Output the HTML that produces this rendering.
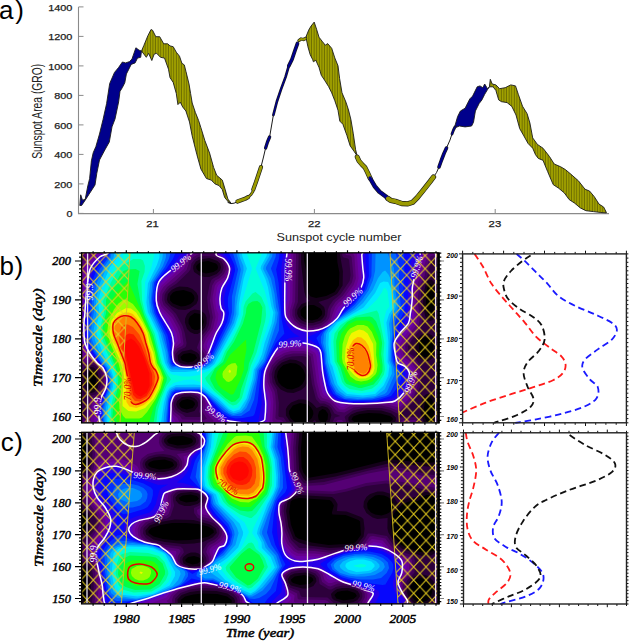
<!DOCTYPE html>
<html><head><meta charset="utf-8"><style>html,body{margin:0;padding:0;background:#fff;}body{width:630px;height:643px;overflow:hidden;}svg{display:block;}</style></head>
<body><svg width="630" height="643" viewBox="0 0 630 643" font-family="Liberation Sans, sans-serif">
<defs>
<pattern id="vs" patternUnits="userSpaceOnUse" width="2.6" height="10"><rect width="2.6" height="10" fill="#a3a300"/><rect x="1.6" width="1" height="10" fill="#6e6e00"/></pattern>
<pattern id="hb" patternUnits="userSpaceOnUse" x="87.50" y="262.10" width="12.276" height="13.127"><path d="M0 0L12.276 13.127M0 13.127L12.276 0M-6.138 6.564L0 0M12.276 13.127L18.414 6.564" stroke="#e8cf1c" stroke-width="1" fill="none"/></pattern>
<pattern id="hc" patternUnits="userSpaceOnUse" x="87.10" y="441.40" width="12.324" height="13.210"><path d="M0 0L12.324 13.210M0 13.210L12.324 0M-6.162 6.605L0 0M12.324 13.210L18.486 6.605" stroke="#e8cf1c" stroke-width="1" fill="none"/></pattern>
<clipPath id="cpb"><rect x="82" y="253" width="355.5" height="169.5"/></clipPath>
<clipPath id="cpc"><rect x="82" y="432.5" width="355.5" height="171"/></clipPath>
</defs>
<g font-family="Liberation Sans, sans-serif">
<path d="M78.5 7V213.6H609" stroke="#8a8a8a" stroke-width="1.1" fill="none"/>
<path d="M78.5 213.4H83.5" stroke="#8a8a8a" stroke-width="1"/>
<path d="M78.5 183.9H83.5" stroke="#8a8a8a" stroke-width="1"/>
<path d="M78.5 154.4H83.5" stroke="#8a8a8a" stroke-width="1"/>
<path d="M78.5 124.9H83.5" stroke="#8a8a8a" stroke-width="1"/>
<path d="M78.5 95.4H83.5" stroke="#8a8a8a" stroke-width="1"/>
<path d="M78.5 65.9H83.5" stroke="#8a8a8a" stroke-width="1"/>
<path d="M78.5 36.4H83.5" stroke="#8a8a8a" stroke-width="1"/>
<path d="M78.5 6.9H83.5" stroke="#8a8a8a" stroke-width="1"/>
<path d="M153.4 213.6V209" stroke="#8a8a8a" stroke-width="1"/>
<path d="M314.4 213.6V209" stroke="#8a8a8a" stroke-width="1"/>
<path d="M495.2 213.6V209" stroke="#8a8a8a" stroke-width="1"/>
<polygon points="79.8,205.5 80.7,194.8 82.5,200.2 85.2,199.3 87.8,185.9 89.6,178.7 91.4,160.8 93.2,152.8 95.9,146.5 99.5,134.0 103.0,119.7 106.6,103.6 109.7,83.5 114.5,72.4 118.5,67.6 122.4,62.0 125.6,62.9 129.6,61.6 132.0,58.9 135.9,47.8 139.1,50.2 141.5,51.0 140.7,57.3 137.5,58.1 135.1,62.9 131.2,64.4 126.4,74.0 124.8,82.7 122.4,87.5 120.0,91.4 118.6,102.0 116.5,112.0 115.0,119.0 112.0,126.8 109.3,142.0 104.8,150.0 99.5,160.0 96.8,173.3 95.0,185.0 88.7,194.8 85.2,200.2 81.6,205.5" fill="#00008c" stroke="#1a1a1a" stroke-width="0.9" stroke-linejoin="round"/>
<polygon points="141.5,51.0 143.9,45.4 147.8,35.9 151.0,29.5 152.6,30.3 155.8,36.7 159.7,36.7 163.7,43.8 167.7,43.8 170.0,45.9 173.2,46.7 176.3,52.2 179.5,56.2 181.9,63.3 184.3,64.9 185.9,71.3 189.0,84.0 190.6,93.5 192.2,103.0 195.4,112.5 198.6,120.5 200.9,127.7 204.8,140.4 209.6,153.1 213.6,167.4 216.7,175.3 222.3,180.1 224.7,188.0 227.9,199.1 231.0,203.1 228.7,202.3 224.7,197.5 222.3,189.6 219.1,185.6 215.2,184.0 211.2,180.1 206.4,178.5 200.9,169.0 196.9,154.7 192.1,135.6 189.5,122.0 187.2,115.0 185.9,111.0 182.7,107.0 180.3,102.2 177.9,104.6 176.3,93.5 173.2,82.4 170.0,77.6 168.5,69.2 164.5,58.1 160.5,57.3 156.6,53.3 154.2,54.1 151.8,60.5 148.6,53.3 146.3,57.3" fill="url(#vs)" stroke="#1a1a1a" stroke-width="0.9" stroke-linejoin="round"/>
<polygon points="305.5,38.0 308.7,30.1 311.0,26.1 314.2,22.1 316.6,29.3 319.0,37.2 322.1,41.2 325.3,45.2 327.7,43.6 331.7,48.3 334.8,57.9 338.0,65.8 339.6,78.5 342.0,92.8 346.0,102.3 348.5,110.0 350.9,119.5 353.3,133.8 355.6,149.7 357.2,156.0 354.0,151.3 350.1,145.7 346.9,135.4 342.9,124.3 339.8,121.1 338.0,110.2 334.8,100.7 331.7,92.8 328.5,86.4 324.5,80.1 321.3,75.3 319.0,67.4 315.8,60.2 313.4,61.8 312.6,59.4 310.2,54.7 307.9,46.7 306.3,38.8" fill="url(#vs)" stroke="#1a1a1a" stroke-width="0.9" stroke-linejoin="round"/>
<polygon points="454.9,126.0 457.6,116.6 460.4,111.0 465.1,108.2 469.8,98.9 472.6,96.1 477.2,86.8 480.0,85.9 482.8,87.7 484.7,84.0 487.5,88.7 489.4,86.8 487.5,89.6 484.7,94.3 481.9,99.9 479.1,103.6 475.4,111.0 473.5,122.2 471.6,126.0 465.1,126.9 459.5,126.0 454.9,127.8" fill="#00008c" stroke="#1a1a1a" stroke-width="0.9" stroke-linejoin="round"/>
<polygon points="489.4,86.8 490.3,79.3 492.2,84.0 495.9,84.9 499.6,88.7 505.2,87.7 510.8,84.9 515.5,85.9 518.3,94.3 522.5,106.2 527.1,113.7 529.9,123.0 532.7,137.9 537.4,144.4 543.0,148.2 549.5,156.6 554.2,164.0 560.7,166.8 565.4,169.6 571.0,174.3 578.4,180.8 585.0,189.2 589.6,191.1 594.3,196.7 599.0,204.1 603.6,207.0 606.4,212.5 606.4,212.9 600.8,212.5 593.4,211.6 585.9,210.7 580.3,207.9 574.7,203.2 569.1,199.5 564.4,193.0 558.8,188.3 553.2,184.6 547.6,171.5 543.0,160.3 538.3,158.4 535.5,154.7 532.7,148.2 528.1,143.5 523.4,135.1 519.7,128.6 516.0,115.0 511.8,106.4 507.1,102.6 501.5,101.7 498.7,99.9 495.9,90.5 493.1,86.8" fill="url(#vs)" stroke="#1a1a1a" stroke-width="0.9" stroke-linejoin="round"/>
<polyline points="228.0,202.5 231.0,203.6 234.0,203.2 237.5,201.8" fill="none" stroke="#1a1a1a" stroke-width="1.0" stroke-linejoin="round" stroke-linecap="round"/>
<polyline points="237.5,201.5 241.0,200.2 245.0,198.8 248.0,197.2" fill="none" stroke="#1a1a1a" stroke-width="4.3" stroke-linejoin="round" stroke-linecap="round"/>
<polyline points="248.0,197.2 251.0,194.5 253.0,191.5" fill="none" stroke="#1a1a1a" stroke-width="2.8" stroke-linejoin="round" stroke-linecap="round"/>
<polyline points="253.3,189.5 256.0,182.0 258.5,174.5 261.0,167.0" fill="none" stroke="#1a1a1a" stroke-width="4.1" stroke-linejoin="round" stroke-linecap="round"/>
<polyline points="261.0,167.0 263.5,157.0 265.6,148.0" fill="none" stroke="#1a1a1a" stroke-width="1.0" stroke-linejoin="round" stroke-linecap="round"/>
<polyline points="265.6,148.0 267.5,142.0 269.6,137.0" fill="none" stroke="#1a1a1a" stroke-width="3.3" stroke-linejoin="round" stroke-linecap="round"/>
<polyline points="269.6,137.0 273.4,115.0" fill="none" stroke="#1a1a1a" stroke-width="1.0" stroke-linejoin="round" stroke-linecap="round"/>
<polyline points="273.4,115.0 276.9,101.5 280.9,89.6 285.6,76.9 288.8,65.8" fill="none" stroke="#1a1a1a" stroke-width="2.7" stroke-linejoin="round" stroke-linecap="round"/>
<polyline points="288.8,65.8 292.0,59.4 295.2,49.9 297.5,43.5" fill="none" stroke="#1a1a1a" stroke-width="3.7" stroke-linejoin="round" stroke-linecap="round"/>
<polyline points="299.0,40.5 301.0,39.0 303.5,39.5 305.5,38.5" fill="none" stroke="#1a1a1a" stroke-width="3.3" stroke-linejoin="round" stroke-linecap="round"/>
<polyline points="357.2,157.0 359.0,161.0 362.0,164.5 365.0,167.5 367.5,172.5 370.0,178.0" fill="none" stroke="#1a1a1a" stroke-width="4.9" stroke-linejoin="round" stroke-linecap="round"/>
<polyline points="370.0,178.0 374.7,186.2 379.4,191.7 385.8,196.5 388.0,198.5" fill="none" stroke="#1a1a1a" stroke-width="4.5" stroke-linejoin="round" stroke-linecap="round"/>
<polyline points="388.0,198.5 390.6,200.3 395.3,201.3 401.7,203.5 408.0,203.8 412.8,202.2 417.5,197.3 423.9,189.4 430.2,181.4 433.5,177.0" fill="none" stroke="#1a1a1a" stroke-width="5.3" stroke-linejoin="round" stroke-linecap="round"/>
<polyline points="433.5,177.0 436.5,172.6 439.0,167.0" fill="none" stroke="#1a1a1a" stroke-width="1.0" stroke-linejoin="round" stroke-linecap="round"/>
<polyline points="439.0,167.0 441.5,160.0 444.0,153.5 446.5,148.0" fill="none" stroke="#1a1a1a" stroke-width="3.6" stroke-linejoin="round" stroke-linecap="round"/>
<polyline points="446.5,148.0 450.0,140.0 452.0,134.0" fill="none" stroke="#1a1a1a" stroke-width="1.0" stroke-linejoin="round" stroke-linecap="round"/>
<polyline points="452.0,134.0 453.5,130.0 455.0,127.0" fill="none" stroke="#1a1a1a" stroke-width="2.8" stroke-linejoin="round" stroke-linecap="round"/>
<polyline points="237.5,201.5 241.0,200.2 245.0,198.8 248.0,197.2" fill="none" stroke="#9a9a00" stroke-width="3.0" stroke-linejoin="round" stroke-linecap="round"/>
<polyline points="248.0,197.2 251.0,194.5 253.0,191.5" fill="none" stroke="#9a9a00" stroke-width="1.5" stroke-linejoin="round" stroke-linecap="round"/>
<polyline points="253.3,189.5 256.0,182.0 258.5,174.5 261.0,167.0" fill="none" stroke="#9a9a00" stroke-width="2.8" stroke-linejoin="round" stroke-linecap="round"/>
<polyline points="265.6,148.0 267.5,142.0 269.6,137.0" fill="none" stroke="#00008c" stroke-width="2.0" stroke-linejoin="round" stroke-linecap="round"/>
<polyline points="273.4,115.0 276.9,101.5 280.9,89.6 285.6,76.9 288.8,65.8" fill="none" stroke="#00008c" stroke-width="1.4" stroke-linejoin="round" stroke-linecap="round"/>
<polyline points="288.8,65.8 292.0,59.4 295.2,49.9 297.5,43.5" fill="none" stroke="#00008c" stroke-width="2.4" stroke-linejoin="round" stroke-linecap="round"/>
<polyline points="299.0,40.5 301.0,39.0 303.5,39.5 305.5,38.5" fill="none" stroke="#9a9a00" stroke-width="2.0" stroke-linejoin="round" stroke-linecap="round"/>
<polyline points="357.2,157.0 359.0,161.0 362.0,164.5 365.0,167.5 367.5,172.5 370.0,178.0" fill="none" stroke="#9a9a00" stroke-width="3.6" stroke-linejoin="round" stroke-linecap="round"/>
<polyline points="370.0,178.0 374.7,186.2 379.4,191.7 385.8,196.5 388.0,198.5" fill="none" stroke="#00008c" stroke-width="3.2" stroke-linejoin="round" stroke-linecap="round"/>
<polyline points="388.0,198.5 390.6,200.3 395.3,201.3 401.7,203.5 408.0,203.8 412.8,202.2 417.5,197.3 423.9,189.4 430.2,181.4 433.5,177.0" fill="none" stroke="#9a9a00" stroke-width="4.0" stroke-linejoin="round" stroke-linecap="round"/>
<polyline points="439.0,167.0 441.5,160.0 444.0,153.5 446.5,148.0" fill="none" stroke="#00008c" stroke-width="2.3" stroke-linejoin="round" stroke-linecap="round"/>
<polyline points="452.0,134.0 453.5,130.0 455.0,127.0" fill="none" stroke="#00008c" stroke-width="1.5" stroke-linejoin="round" stroke-linecap="round"/>
<text x="72.4" y="217.0" font-size="8.7" text-anchor="end" fill="#222" stroke="#222" stroke-width="0.25" textLength="6.0" lengthAdjust="spacingAndGlyphs">0</text>
<text x="72.4" y="187.5" font-size="8.7" text-anchor="end" fill="#222" stroke="#222" stroke-width="0.25" textLength="18.1" lengthAdjust="spacingAndGlyphs">200</text>
<text x="72.4" y="158.0" font-size="8.7" text-anchor="end" fill="#222" stroke="#222" stroke-width="0.25" textLength="18.1" lengthAdjust="spacingAndGlyphs">400</text>
<text x="72.4" y="128.5" font-size="8.7" text-anchor="end" fill="#222" stroke="#222" stroke-width="0.25" textLength="18.1" lengthAdjust="spacingAndGlyphs">600</text>
<text x="72.4" y="99.0" font-size="8.7" text-anchor="end" fill="#222" stroke="#222" stroke-width="0.25" textLength="18.1" lengthAdjust="spacingAndGlyphs">800</text>
<text x="72.4" y="69.5" font-size="8.7" text-anchor="end" fill="#222" stroke="#222" stroke-width="0.25" textLength="24.2" lengthAdjust="spacingAndGlyphs">1000</text>
<text x="72.4" y="40.0" font-size="8.7" text-anchor="end" fill="#222" stroke="#222" stroke-width="0.25" textLength="24.2" lengthAdjust="spacingAndGlyphs">1200</text>
<text x="72.4" y="10.5" font-size="8.7" text-anchor="end" fill="#222" stroke="#222" stroke-width="0.25" textLength="24.2" lengthAdjust="spacingAndGlyphs">1400</text>
<text x="152.6" y="227.3" font-size="9.2" text-anchor="middle" fill="#222" stroke="#222" stroke-width="0.25" textLength="12.6" lengthAdjust="spacingAndGlyphs">21</text>
<text x="314.2" y="227.3" font-size="9.2" text-anchor="middle" fill="#222" stroke="#222" stroke-width="0.25" textLength="12.6" lengthAdjust="spacingAndGlyphs">22</text>
<text x="494.9" y="227.3" font-size="9.2" text-anchor="middle" fill="#222" stroke="#222" stroke-width="0.25" textLength="12.6" lengthAdjust="spacingAndGlyphs">23</text>
<text x="339" y="240.6" font-size="11" text-anchor="middle" fill="#222" textLength="125" lengthAdjust="spacingAndGlyphs">Sunspot cycle number</text>
<text transform="translate(41.9 111.3) rotate(-90)" font-size="14.5" text-anchor="middle" fill="#222" textLength="95" lengthAdjust="spacingAndGlyphs">Sunspot Area (GRO)</text>
<text x="-1" y="19" font-size="26" fill="#000" letter-spacing="1.7">a)</text>
<text x="-0.4" y="275" font-size="26" fill="#000" letter-spacing="0.5">b)</text>
<text x="0.8" y="450.6" font-size="26" fill="#000" letter-spacing="0.5">c)</text>
</g>
<g clip-path="url(#cpb)"><rect x="82" y="253" width="355.5" height="169.5" fill="#000000"/>
<path fill-rule="evenodd" fill="#140019" d="M82.1 253.1 82.1 422.4 296.4 422.4 293.6 421.1 290.4 417.9 288.9 413.6 289.1 411.1 292.9 405.6 300.1 402.9 307.9 404.6 311.1 407.4 313.1 411.1 313.4 413.9 311.9 417.9 308.6 421.1 305.6 422.4 321.1 422.4 318.6 419.6 317.9 415.4 319.1 411.6 322.4 409.1 325.4 409.9 328.1 414.1 327.6 419.6 325.1 422.4 354.9 422.4 351.4 419.6 353.1 416.6 359.6 414.1 368.9 412.9 380.4 413.4 389.9 415.9 392.6 418.1 392.9 419.4 389.4 422.4 427.9 422.4 426.1 420.6 424.6 416.9 423.9 407.9 425.4 401.1 428.4 397.4 429.9 397.4 431.9 399.1 434.4 408.1 433.6 416.9 432.1 420.6 430.4 422.4 437.4 422.4 437.4 253.1 336.9 253.1 337.4 262.6 339.4 272.4 338.9 285.6 334.6 291.9 326.1 295.9 316.1 298.1 310.6 296.4 308.4 293.4 306.9 285.1 305.9 269.6 303.9 259.9 303.9 253.1ZM179.1 403.6 181.6 400.4 187.4 398.9 192.6 400.4 194.6 402.4 195.1 404.6 192.6 407.9 186.4 409.4 181.6 407.9 179.6 405.9ZM90.6 370.4 92.1 370.4 94.1 372.1 96.1 378.6 95.4 385.6 92.1 389.9 90.6 389.9 88.6 388.1 86.6 381.1 87.9 373.6ZM290.1 362.9 295.9 363.6 300.4 366.1 303.6 369.9 305.4 375.1 304.9 379.4 302.4 384.1 298.9 387.1 292.1 389.4 287.1 388.9 281.9 386.1 278.6 382.4 276.9 376.6 277.9 371.4 280.1 367.9 283.4 365.1ZM180.4 356.9 183.6 353.9 189.9 352.9 195.1 354.6 197.1 358.1 193.1 361.6 187.9 362.4 181.9 360.4ZM424.9 337.1 428.1 337.4 431.1 339.9 433.4 345.9 433.1 349.9 431.6 353.6 427.4 357.1 424.1 356.9 421.1 354.4 418.9 348.4 419.1 344.4 420.6 340.6ZM194.6 313.1 199.9 314.1 202.4 316.6 203.9 322.1 202.6 326.1 199.9 329.1 197.6 330.1 194.6 330.1 191.6 328.6 188.6 323.6 188.6 319.6 189.9 316.6ZM300.4 310.6 302.4 307.9 305.1 306.1 310.1 304.9 313.9 305.1 320.4 308.4 322.1 311.4 322.1 313.9 321.4 315.6 317.6 318.9 311.9 320.4 304.6 318.9 300.9 315.6ZM170.1 295.9 172.9 292.6 176.1 290.9 183.6 289.9 191.4 292.6 193.9 295.4 194.6 298.6 193.4 301.6 190.6 304.1 185.4 306.1 180.9 306.4 172.9 303.6 170.1 300.4ZM429.6 283.9 430.6 283.9 432.6 286.6 434.4 296.9 433.6 309.6 432.6 313.6 430.6 316.4 429.6 316.4 427.6 313.6 425.9 303.4 426.6 290.6 427.9 286.1ZM196.1 266.6 196.9 264.9 200.6 262.1 208.1 260.9 215.9 263.4 217.4 264.9 218.1 267.6 217.4 269.4 213.6 272.1 205.9 273.4 198.4 270.9 196.6 269.1Z"/>
<path fill-rule="evenodd" fill="#2d003c" d="M316.9 422.4 314.9 419.9 311.6 422.4ZM82.1 253.1 82.1 422.4 290.6 422.4 285.9 415.4 285.9 409.1 287.6 405.9 291.1 402.4 298.6 399.4 303.6 399.4 308.1 400.6 312.4 403.4 316.6 408.1 322.1 406.1 327.4 407.6 329.6 410.1 331.4 415.1 329.4 422.4 349.6 422.4 348.4 420.4 348.4 417.6 351.1 414.4 356.9 411.9 367.9 410.1 381.4 410.6 391.4 413.4 395.9 417.4 395.9 420.4 394.6 422.4 423.9 422.4 420.4 413.4 420.6 404.6 423.6 396.6 425.9 394.4 428.6 393.4 432.4 394.4 435.9 400.4 437.1 406.9 437.1 413.4 434.4 422.4 437.4 422.4 437.4 253.1 339.6 253.1 342.9 271.1 342.6 285.6 336.9 294.1 327.9 299.1 318.4 301.9 324.1 307.1 325.1 310.9 324.9 314.9 323.1 318.1 320.4 320.6 312.9 323.1 307.6 322.9 301.9 320.6 298.4 317.1 297.1 313.6 297.6 309.6 301.6 303.9 310.1 300.9 305.9 297.4 304.4 292.1 301.1 262.9 301.1 253.1ZM177.1 400.9 182.1 396.9 190.1 396.4 194.1 397.9 196.9 400.4 197.9 402.4 197.9 405.9 194.4 411.1 187.1 412.9 182.1 411.4 177.6 408.1 176.1 404.4ZM91.1 367.1 93.6 367.6 96.4 370.1 98.9 377.4 98.9 382.9 97.6 387.9 94.4 392.1 91.6 393.1 88.1 392.4 86.1 390.6 83.9 382.9 83.9 377.4 85.1 372.1 88.4 368.1ZM289.9 359.6 295.9 359.9 301.9 362.6 305.9 366.9 308.4 374.6 307.9 381.9 304.9 386.9 301.1 390.1 293.6 392.9 287.1 392.6 280.6 389.6 276.1 383.9 274.1 377.6 274.9 371.1 277.4 366.6 281.9 362.6ZM177.6 355.6 182.1 351.4 191.1 349.4 197.1 352.4 199.1 354.4 200.1 358.4 199.1 360.9 195.6 363.6 192.1 364.6 185.6 364.6 180.4 362.9 178.1 360.6ZM424.6 333.4 428.6 333.6 431.9 335.4 434.9 339.6 436.1 344.4 436.1 349.9 433.9 356.6 430.9 359.6 427.6 360.9 423.6 360.6 420.1 358.6 417.1 354.9 415.4 349.6 415.4 344.6 417.1 339.4 421.1 334.9ZM194.4 309.4 200.9 310.4 205.1 314.1 206.6 317.4 206.6 323.4 205.1 327.6 201.6 331.6 197.6 333.9 194.4 333.9 190.1 332.1 187.1 328.9 184.9 322.6 185.1 318.4 187.1 314.1 190.4 310.9ZM167.9 293.9 171.6 289.9 176.1 287.4 179.6 286.4 187.6 286.9 192.4 288.9 196.4 292.4 198.1 296.1 198.1 300.1 196.4 303.9 190.1 308.6 185.1 309.9 178.1 309.6 171.4 306.1 167.9 302.4 166.9 299.6ZM431.4 279.6 434.1 281.9 435.9 286.9 437.1 295.4 437.1 304.9 434.6 317.4 432.9 319.9 429.9 320.9 427.4 319.9 425.1 316.1 423.1 304.6 423.1 295.9 425.9 283.4 428.1 280.6ZM193.4 265.4 195.9 261.6 199.6 259.4 209.4 258.1 217.4 260.9 220.1 263.6 221.1 267.6 220.1 270.6 216.6 273.9 209.1 276.9 204.4 276.9 199.4 275.6 194.1 271.9 193.1 268.6Z"/>
<path fill-rule="evenodd" fill="#410058" d="M397.9 421.9 420.9 422.4 419.4 418.6 416.6 417.1 400.1 417.4ZM82.1 253.1 82.1 373.6 84.1 367.4 87.9 365.4 92.1 364.6 94.9 365.4 98.4 368.6 100.1 371.9 101.4 377.4 101.1 384.6 98.6 391.4 95.4 394.6 89.6 395.9 88.4 397.1 86.1 406.6 85.9 415.4 84.6 416.6 83.4 415.4 83.1 392.9 82.1 386.6 82.1 422.4 287.1 422.4 283.4 417.6 279.4 416.9 278.4 415.9 278.9 402.9 276.9 389.6 272.6 382.4 271.6 374.1 273.6 367.6 279.1 361.4 285.9 357.9 291.9 356.4 302.1 356.1 306.4 357.1 308.4 358.9 311.9 384.1 315.9 399.1 319.9 403.4 324.4 403.6 328.6 405.4 331.4 408.1 334.4 413.6 340.4 416.1 334.9 417.4 332.4 422.4 346.4 422.4 344.6 417.1 345.9 415.4 352.9 410.6 362.6 408.1 381.6 408.1 390.1 410.1 397.1 413.4 400.4 413.1 409.4 406.1 414.1 401.4 416.4 397.6 420.1 386.6 422.4 371.4 421.4 367.1 413.6 356.6 408.6 352.9 407.9 346.6 411.6 339.9 418.6 331.6 420.9 327.6 422.4 320.1 420.6 304.6 421.1 291.1 423.6 282.1 427.4 276.6 428.1 271.1 432.1 260.1 434.6 258.1 437.1 260.1 437.4 281.9 437.4 253.1 342.1 253.1 342.4 255.9 343.6 257.6 347.9 258.4 349.1 259.9 350.6 275.1 349.6 280.9 340.4 294.4 333.1 300.6 329.6 305.6 327.9 309.4 327.1 316.1 325.4 319.4 321.1 323.1 313.1 325.6 307.4 325.4 300.6 322.9 296.1 318.4 294.9 315.1 294.9 310.1 297.9 301.9 298.6 253.1ZM176.4 397.9 180.1 395.4 185.6 394.1 191.1 394.4 196.1 396.1 199.1 399.1 200.4 401.9 200.6 404.9 199.1 411.4 201.1 416.1 199.4 417.1 185.6 417.1 182.6 414.4 178.1 412.1 175.4 409.4 173.9 405.9 174.1 401.9ZM213.4 256.4 217.9 258.4 221.6 261.4 223.4 264.9 223.6 267.9 221.9 272.6 217.9 276.1 213.1 278.4 211.4 280.1 209.6 284.6 207.1 297.6 208.1 308.6 210.1 315.9 208.9 324.9 206.4 330.4 201.4 335.9 196.9 347.4 197.4 349.1 201.9 353.9 202.4 359.9 199.9 363.4 193.9 365.4 181.1 364.9 176.1 361.1 175.1 355.9 175.6 353.9 178.4 350.6 184.9 347.6 186.1 346.1 186.6 342.9 184.9 333.4 182.6 325.9 176.1 314.1 165.4 303.1 164.4 300.1 164.6 295.1 166.1 291.9 169.6 288.1 176.6 283.4 188.6 272.1 190.4 269.4 191.4 263.4 194.6 259.4 198.4 257.1 202.9 255.9Z"/>
<path fill-rule="evenodd" fill="#550074" d="M400.6 422.1 418.1 422.4 415.1 419.9 403.4 419.9ZM335.1 422.4 343.6 422.1 341.9 420.1 337.9 419.9ZM82.1 253.1 82.1 255.6 85.6 256.4 84.9 258.6 82.1 261.4 82.1 361.4 84.9 363.1 92.1 362.1 96.4 364.1 101.4 369.4 103.9 377.9 103.6 384.4 101.4 391.6 97.6 396.1 91.9 398.4 90.4 400.1 88.9 407.1 88.6 418.4 86.4 419.9 82.1 419.6 82.1 422.4 283.9 422.4 281.1 420.1 276.6 419.6 275.4 417.9 276.1 406.9 275.4 395.6 274.4 390.9 269.9 381.9 269.1 374.1 271.9 365.6 276.4 360.4 285.6 355.1 293.1 353.6 303.6 353.6 307.6 354.6 310.6 356.6 314.6 384.4 317.9 396.9 320.6 400.4 325.9 401.4 330.1 403.4 337.1 411.6 344.4 412.6 353.6 407.6 368.9 405.4 381.4 405.6 389.9 407.4 396.9 410.4 399.6 410.4 408.6 403.1 414.1 395.9 417.6 385.6 419.9 373.9 419.6 371.1 418.1 366.9 413.6 360.6 405.9 354.1 405.1 345.9 409.4 338.4 418.1 327.4 419.9 317.9 418.1 304.6 418.1 295.6 419.6 285.9 424.6 275.9 425.4 270.6 430.4 256.6 432.6 255.4 437.4 255.4 437.4 253.1 344.9 253.1 346.1 255.1 350.1 255.6 351.6 257.1 353.4 275.9 351.9 282.6 342.9 295.4 335.4 302.1 330.9 309.1 329.4 317.4 327.6 320.6 320.9 326.1 312.4 328.1 306.1 327.6 299.9 325.4 294.6 320.6 292.4 315.4 292.4 309.9 295.1 301.6 296.1 253.1ZM175.1 397.4 177.1 395.4 184.4 393.4 193.6 393.6 198.9 395.4 201.6 398.4 202.9 401.6 202.4 411.6 206.9 418.9 204.1 419.9 182.1 419.4 179.9 416.1 174.4 412.1 172.9 409.4 172.6 403.1ZM213.4 253.9 223.6 261.1 225.9 265.9 225.9 269.6 223.9 274.1 219.1 278.4 215.1 280.4 212.1 285.6 209.9 300.4 212.9 317.6 210.4 328.6 203.9 337.1 200.4 345.6 200.4 347.6 204.6 354.1 204.6 359.1 202.1 363.1 198.4 364.9 192.9 366.1 181.4 365.6 175.1 361.4 174.1 352.9 176.9 348.6 182.1 345.9 183.6 344.1 181.6 331.1 179.6 325.9 173.1 314.6 163.6 305.1 161.9 300.1 162.4 293.9 167.1 286.9 175.4 280.9 186.6 270.1 189.4 261.6 193.4 257.1 197.9 254.6 204.4 253.1Z"/>
<path fill-rule="evenodd" fill="#65008e" d="M83.6 264.9 82.1 271.1 82.1 355.6 85.6 359.9 91.1 359.6 93.4 360.4 102.1 368.6 105.4 377.4 104.6 387.6 101.6 394.4 98.4 398.6 94.4 400.4 92.6 402.4 91.6 406.6 91.1 421.4 89.9 422.4 82.1 422.4 182.1 422.4 179.4 422.1 177.4 417.9 172.9 413.9 171.9 410.4 171.9 403.6 173.1 399.6 176.1 395.1 185.6 392.6 197.4 393.4 204.1 398.6 205.6 403.4 205.4 411.1 207.1 414.1 213.6 420.6 213.6 421.6 212.4 422.4 203.6 422.4 276.1 422.4 273.9 422.4 272.4 420.6 273.4 401.4 272.1 392.6 267.4 382.1 267.1 372.1 269.9 364.6 275.1 358.1 284.1 352.9 291.1 351.1 303.1 350.9 308.6 352.1 312.9 354.6 316.9 382.1 320.4 395.6 322.6 398.1 330.6 400.6 339.4 409.4 344.1 409.6 349.4 406.6 354.6 405.1 373.4 404.1 387.6 404.4 398.4 407.6 400.6 406.6 407.6 400.4 411.6 394.9 414.9 385.9 417.1 372.1 415.9 368.4 411.6 362.4 403.9 356.4 402.6 351.9 402.4 345.4 406.4 337.9 415.9 325.6 417.1 318.9 415.6 304.6 416.4 289.6 418.1 282.1 422.1 274.4 422.6 270.4 427.9 254.6 429.4 253.1 352.9 253.1 354.4 255.9 355.9 278.4 353.6 285.1 344.4 297.6 338.1 303.1 335.1 307.1 330.1 321.1 323.1 326.9 313.1 329.6 306.6 329.6 297.9 326.6 293.6 323.1 290.4 317.6 289.6 311.4 292.4 301.6 293.4 253.1 215.4 253.1 216.9 255.6 222.4 258.6 224.6 260.9 227.9 267.6 227.6 271.1 224.6 277.1 217.1 282.4 214.9 285.6 212.6 296.6 212.6 301.1 215.6 317.1 212.9 329.1 206.4 338.4 203.6 344.6 203.6 347.4 206.6 352.4 205.1 360.6 203.1 363.4 200.1 364.9 191.9 366.6 180.6 365.9 176.6 363.6 174.1 360.6 173.4 351.9 174.4 348.4 180.9 342.4 179.6 334.1 177.6 327.9 172.1 318.1 161.4 306.4 159.6 301.4 159.4 296.4 160.6 291.4 163.4 287.1 183.9 269.1 187.6 259.6 195.4 253.1 90.4 253.1 91.4 253.6 90.9 255.6Z"/>
<path fill-rule="evenodd" fill="#6a00a7" d="M85.9 266.6 82.1 287.6 82.1 349.1 86.6 356.9 92.6 358.4 102.4 367.9 106.4 378.4 104.6 390.1 99.9 399.6 95.1 403.9 94.1 422.4 175.6 422.4 171.6 414.6 171.1 408.4 172.1 400.6 175.9 394.6 186.9 392.1 197.9 392.9 202.9 395.9 207.4 402.4 207.9 409.6 208.9 411.9 220.4 422.4 269.4 422.4 270.9 403.1 269.4 392.9 265.4 383.1 265.9 371.4 270.4 361.4 276.4 354.1 283.1 350.4 292.4 348.4 302.9 348.1 309.6 349.6 315.1 352.9 316.4 355.9 319.6 382.6 322.4 393.1 324.1 395.6 330.9 398.4 340.9 406.9 343.6 406.9 348.6 404.6 389.9 402.9 398.6 404.4 407.1 397.1 409.9 391.9 412.6 383.9 414.4 371.9 409.6 364.1 401.6 358.1 400.1 353.1 399.6 344.9 404.1 336.4 413.4 324.6 414.6 316.6 413.4 306.6 414.1 288.9 415.6 281.9 419.1 274.6 425.4 253.1 356.9 253.1 358.6 278.4 356.4 285.9 345.9 299.9 338.4 307.1 335.9 311.6 333.4 319.4 324.9 326.9 318.6 329.6 311.9 330.6 306.1 330.6 296.9 327.4 291.1 322.6 287.9 316.9 287.4 309.9 289.9 299.4 290.9 253.1 216.4 253.1 217.9 255.6 223.1 258.4 225.9 261.6 228.9 267.6 228.6 271.6 226.4 278.1 218.4 285.1 217.1 287.6 215.1 299.1 216.1 308.4 218.4 314.1 217.9 319.9 215.1 330.4 208.6 339.9 206.6 344.6 208.1 352.6 206.1 359.9 202.9 364.1 192.6 366.9 181.1 366.4 174.1 361.9 172.6 352.4 174.4 345.1 177.9 340.9 176.6 332.9 168.9 318.1 160.4 308.9 157.6 300.9 158.4 292.6 161.1 285.9 181.9 267.1 185.6 258.6 192.4 253.1 96.6 253.1Z"/>
<path fill-rule="evenodd" fill="#5400c7" d="M88.4 267.6 85.4 282.1 82.1 318.4 82.6 342.4 86.9 352.9 91.9 356.4 102.9 367.6 106.9 377.6 105.9 388.6 96.9 407.6 96.9 422.4 172.6 422.4 170.9 416.1 171.4 401.1 175.6 394.1 184.1 391.9 196.9 392.1 203.6 395.6 208.4 401.9 211.4 410.6 218.1 417.1 225.6 422.4 266.6 422.4 268.1 402.4 267.1 394.9 264.1 385.4 264.9 371.6 269.1 361.9 274.1 354.1 280.6 348.6 290.4 345.9 303.9 345.6 311.4 347.4 317.4 351.1 319.1 356.1 322.1 381.6 324.9 391.9 334.9 400.6 341.9 404.1 396.9 401.6 402.1 398.1 406.9 392.1 410.4 381.9 411.6 372.1 407.4 365.6 401.1 361.9 399.4 359.9 397.6 354.1 396.9 344.4 401.9 334.9 410.9 323.6 411.9 318.4 412.6 287.9 417.6 268.1 421.6 258.1 422.6 253.1 359.6 253.1 361.4 278.4 358.6 287.4 348.4 300.9 341.4 307.6 335.6 318.1 330.6 323.1 320.6 329.6 309.4 331.6 304.6 331.1 295.9 327.9 290.4 323.4 286.1 316.1 285.6 307.4 287.1 299.9 288.4 253.1 217.1 253.1 218.4 255.1 225.4 259.6 229.9 268.4 227.9 277.6 220.1 287.6 218.1 295.6 218.6 307.1 221.1 313.4 220.4 321.1 217.1 330.6 209.9 343.6 209.4 351.4 205.9 361.9 201.6 365.1 193.1 367.1 180.9 366.6 175.9 364.1 173.4 361.6 172.1 351.6 174.9 340.1 173.9 332.9 167.9 321.6 160.6 312.6 156.6 301.4 157.9 289.9 160.4 282.9 179.4 265.9 183.1 259.4 190.9 253.1 102.4 253.1 96.6 257.1Z"/>
<path fill-rule="evenodd" fill="#2800e7" d="M90.9 268.6 87.9 282.4 84.1 322.9 84.9 341.1 89.4 352.4 103.9 368.1 107.6 378.6 106.6 388.1 102.1 397.9 99.1 407.4 98.9 422.4 170.6 422.4 170.1 407.1 171.1 400.4 174.9 393.9 184.6 391.4 198.4 391.9 204.6 395.6 213.9 409.9 221.4 416.6 227.4 420.4 237.6 422.4 263.6 422.4 265.4 406.1 262.9 385.6 263.9 371.9 269.1 360.4 276.9 349.1 280.9 345.6 289.6 343.1 304.9 342.9 312.9 345.1 318.9 349.1 320.9 353.6 322.9 373.1 326.9 390.4 328.6 393.4 336.4 400.4 343.1 402.4 350.6 402.9 370.4 402.6 393.6 400.4 398.9 397.4 403.4 392.9 407.9 380.4 408.9 373.1 405.9 368.1 399.6 363.9 397.1 360.6 395.4 353.4 394.9 343.6 399.9 333.4 407.6 323.6 408.6 321.1 410.4 308.4 411.1 287.6 414.6 268.1 419.6 253.1 362.1 253.1 363.9 278.6 360.9 288.4 352.9 298.9 343.6 308.4 336.4 318.4 324.9 328.1 319.4 330.9 309.6 332.6 305.9 332.6 296.1 329.4 288.9 323.4 285.1 317.1 284.1 309.1 284.6 274.6 286.4 253.1 218.4 253.1 225.9 258.9 230.6 267.4 229.1 277.4 222.6 288.6 220.6 297.4 221.4 307.1 223.9 313.1 222.6 321.9 212.6 343.1 206.1 362.4 202.6 365.1 193.4 367.4 180.6 366.9 173.4 362.6 171.6 354.9 172.6 344.1 171.6 333.9 158.9 311.9 155.6 300.9 157.1 288.9 159.1 281.6 177.9 263.6 185.1 255.4 188.9 253.1 106.9 253.1 99.9 257.4Z"/>
<path fill-rule="evenodd" fill="#0707fc" d="M413.9 253.1 365.4 253.1 366.4 276.9 362.4 289.6 354.9 299.4 333.1 322.1 322.6 330.1 307.1 337.4 317.1 344.9 320.6 349.1 322.1 353.1 322.9 363.9 326.9 384.4 329.6 391.9 336.1 398.9 348.9 401.9 370.9 401.9 381.1 400.9 393.9 397.9 400.6 390.1 403.9 381.9 405.4 373.6 403.4 369.6 396.9 363.6 395.6 361.1 394.1 353.9 393.9 342.6 398.1 332.1 404.4 321.4 407.1 312.9 408.1 304.4 407.9 286.4 409.9 266.1ZM101.9 258.6 93.6 269.1 90.9 278.6 88.1 298.4 85.9 327.6 86.9 341.6 89.6 349.1 97.4 360.6 104.6 368.4 108.1 377.9 106.9 389.4 103.1 397.4 100.6 407.1 100.4 422.4 169.4 422.4 169.6 405.4 171.1 398.9 175.1 392.9 184.6 390.9 197.9 391.1 202.4 393.4 207.1 397.4 215.9 409.1 222.9 415.4 228.1 418.6 235.4 420.1 245.9 420.6 248.9 422.4 257.9 422.4 261.6 404.4 261.4 383.9 263.4 369.9 272.9 351.9 279.6 343.1 289.6 337.9 299.6 336.4 294.1 333.6 291.4 331.1 287.1 325.4 283.6 317.4 280.9 270.4 283.4 253.1 222.9 253.1 227.1 257.4 232.4 267.6 230.6 278.6 226.1 288.6 224.1 297.9 224.4 305.6 226.4 311.9 224.6 322.6 218.1 334.9 206.9 362.4 202.4 365.6 191.6 367.9 180.4 367.1 172.6 362.6 170.9 353.9 171.1 341.9 169.4 334.1 158.1 313.4 154.6 300.6 157.9 281.1 170.6 267.4 181.6 253.1 108.4 253.1 106.1 255.9Z"/>
<path fill-rule="evenodd" fill="#0030ff" d="M404.1 253.1 368.6 253.1 368.9 276.1 364.6 289.4 354.6 302.4 334.9 321.1 322.1 331.4 316.4 337.9 323.1 352.6 323.9 363.4 328.6 384.6 333.1 393.6 338.6 398.1 349.6 400.9 376.6 400.4 391.1 396.1 397.4 387.6 400.9 378.9 401.6 373.6 393.9 360.4 392.9 343.1 398.4 323.9 403.4 313.1 404.6 308.1 403.4 287.6 404.4 274.1ZM109.4 253.1 108.4 255.6 101.9 261.9 97.1 268.6 93.1 279.1 90.1 297.9 89.6 312.1 87.6 327.6 88.4 339.9 90.9 347.9 97.1 358.9 105.1 368.1 108.9 378.4 107.9 388.4 103.4 399.4 101.9 407.1 101.6 422.4 168.1 422.4 169.1 402.9 171.1 396.9 174.4 392.1 183.9 390.4 197.9 390.4 200.1 391.1 205.4 394.6 222.6 412.9 229.4 417.1 235.6 418.4 242.9 418.1 253.1 415.9 254.6 413.9 257.6 402.4 261.1 370.9 265.1 364.9 275.9 342.9 284.4 333.6 281.6 319.1 278.6 282.9 276.1 269.4 279.1 258.4 279.6 253.1 228.9 253.1 234.4 265.1 235.1 270.4 227.9 297.9 227.9 305.9 229.1 313.4 227.1 322.1 207.6 362.6 203.6 365.6 192.4 368.1 180.9 367.6 171.9 363.4 170.4 356.9 169.4 343.4 167.4 335.1 156.4 313.4 153.6 302.4 155.9 282.1 166.6 268.6 172.9 258.9 175.4 253.1Z"/>
<path fill-rule="evenodd" fill="#0064ff" d="M395.6 253.1 371.9 253.1 371.4 276.1 366.6 289.6 355.1 304.6 327.4 327.9 323.4 331.9 320.9 337.1 320.9 342.4 324.4 353.6 324.9 363.1 330.4 384.6 335.9 394.1 344.4 398.9 357.9 400.1 371.9 399.6 385.9 395.9 388.6 394.4 390.6 391.9 397.4 377.4 397.9 372.9 392.9 361.9 392.1 355.4 392.1 341.9 394.1 332.4 394.6 324.1 396.6 317.4 401.1 308.9 398.9 287.1 399.1 266.1ZM110.4 253.1 109.1 256.9 100.1 268.6 95.1 280.6 91.9 299.4 91.6 313.1 89.1 331.1 90.6 342.1 93.9 350.9 100.1 361.4 105.9 367.9 109.6 377.9 108.9 387.6 104.9 398.1 103.1 407.1 102.9 422.4 166.9 422.4 168.6 400.6 171.9 392.6 175.6 390.1 199.1 389.6 206.4 394.4 223.9 411.6 231.6 416.1 241.1 415.9 249.6 410.6 254.1 399.4 259.1 370.6 265.1 362.6 278.9 330.6 279.6 311.9 274.4 278.1 270.9 268.6 275.6 257.1 276.1 253.1 232.9 253.1 238.1 269.4 231.9 296.4 231.9 312.1 229.4 322.6 209.9 361.6 204.6 365.9 193.4 368.4 180.1 367.9 176.1 366.1 172.9 365.9 170.6 363.9 165.4 336.1 154.6 313.6 152.4 303.6 152.1 298.1 154.1 282.4 164.9 267.1 169.1 258.4 170.4 253.1Z"/>
<path fill-rule="evenodd" fill="#0093ff" d="M387.4 253.1 375.6 253.1 375.1 271.1 372.9 280.4 368.6 290.4 361.9 299.9 354.1 308.4 338.1 319.4 326.6 329.6 324.1 333.6 323.1 343.1 325.4 351.9 326.1 362.9 331.4 382.4 336.6 391.9 345.1 397.6 357.6 398.9 373.1 398.1 384.6 393.9 386.9 392.1 394.6 374.4 393.6 366.9 391.1 360.9 390.9 347.6 392.1 334.6 391.6 322.4 393.4 315.4 397.4 309.9 398.1 306.1 394.6 285.9 393.9 268.1ZM111.4 253.1 110.6 257.6 103.4 267.9 97.1 282.1 93.9 299.1 93.9 312.4 91.1 329.4 92.1 339.9 96.1 351.6 102.1 362.1 106.9 367.6 110.6 377.6 109.6 388.9 105.9 399.1 104.4 407.6 104.1 422.4 165.6 422.4 167.9 398.9 170.9 391.6 175.6 388.6 199.9 388.6 207.4 393.9 228.6 412.9 233.4 414.9 241.4 413.1 246.4 407.9 250.6 399.1 256.1 379.4 257.4 369.9 264.4 360.9 276.6 322.6 277.9 312.9 276.1 306.9 274.6 293.9 270.9 278.4 265.9 268.9 266.1 266.9 272.1 256.4 272.6 253.1 236.4 253.1 240.9 269.6 235.1 297.6 234.1 313.9 231.6 322.9 211.1 362.4 205.6 366.4 193.6 368.9 181.1 368.6 176.6 367.1 171.9 367.4 170.4 366.1 168.4 361.4 167.4 352.1 162.4 333.6 152.4 312.6 150.6 302.6 152.4 282.4 162.9 265.9 165.9 257.6 166.1 253.1Z"/>
<path fill-rule="evenodd" fill="#00c0ff" d="M385.1 270.6 382.6 271.9 378.1 278.1 372.9 289.6 363.1 303.1 355.9 309.6 335.4 322.6 329.1 328.6 326.1 334.1 325.6 343.6 327.9 362.1 334.6 384.1 339.1 390.9 346.4 396.1 362.9 397.4 375.6 395.9 384.6 389.6 391.9 373.4 391.6 366.9 389.4 360.4 390.1 333.1 388.9 323.9 391.1 314.9 395.1 309.6 395.9 305.4 391.4 280.4 388.4 274.4ZM114.4 253.1 113.4 257.9 106.4 267.9 99.6 283.9 95.9 300.1 96.4 314.4 93.4 331.4 95.1 340.6 99.1 352.1 103.6 360.9 108.4 367.4 111.9 377.1 111.4 386.9 107.9 397.9 106.1 407.1 105.4 422.4 163.6 422.4 164.1 413.4 167.1 396.6 169.6 390.6 171.4 388.9 175.9 386.9 200.1 387.1 216.1 399.4 228.9 411.1 233.1 413.1 235.6 413.1 240.9 410.9 244.6 406.4 248.6 398.4 254.4 378.6 255.6 369.6 263.1 358.4 274.6 320.9 275.6 312.4 273.9 306.9 271.1 289.4 268.1 278.9 263.1 268.9 263.6 266.1 269.4 255.9 269.9 253.1 239.1 253.1 239.6 256.9 243.4 266.1 243.6 269.9 238.1 294.9 236.4 306.4 236.4 314.1 233.9 322.9 212.4 363.6 205.4 367.9 192.6 369.9 171.6 369.6 169.6 367.9 166.9 362.4 165.4 352.1 160.4 333.6 150.1 312.1 148.6 297.6 150.4 282.4 159.4 266.9 162.4 258.6 162.9 253.1Z"/>
<path fill-rule="evenodd" fill="#00ebff" d="M388.1 281.9 383.6 281.6 380.1 283.1 375.1 292.9 363.6 307.4 337.4 322.4 328.9 332.9 328.4 344.4 330.4 362.9 332.4 366.6 337.6 384.4 341.1 388.9 347.1 394.1 362.9 395.6 375.1 393.9 383.6 385.6 388.1 375.9 389.4 365.9 387.6 362.1 388.4 341.9 386.4 322.6 389.1 314.1 393.9 307.6 391.6 289.6ZM118.4 253.1 117.4 257.6 110.1 266.9 102.6 284.4 98.1 300.6 99.4 314.1 96.9 323.9 96.4 334.6 102.6 353.1 110.6 368.1 113.6 377.9 112.9 387.6 109.6 398.1 107.9 407.9 107.1 422.4 161.1 422.4 163.9 402.9 167.1 392.1 169.9 387.9 176.1 384.9 193.6 384.4 200.1 385.1 217.6 398.1 228.9 409.1 233.4 411.4 239.6 409.4 246.6 398.4 252.4 378.9 253.9 369.6 258.6 362.1 261.9 354.6 264.6 342.9 271.6 323.4 273.4 312.6 271.4 306.6 267.9 287.1 265.4 278.9 260.6 268.6 261.1 266.1 266.6 255.9 267.1 253.1 241.9 253.1 242.4 256.6 246.9 268.4 243.6 278.9 238.9 303.9 238.6 314.4 234.9 325.9 214.4 364.1 209.6 368.1 204.1 370.1 185.6 372.1 172.1 372.1 170.6 371.6 167.6 367.9 165.1 362.9 158.1 332.9 147.9 311.9 146.4 302.4 147.9 283.4 156.9 264.9 159.4 257.6 159.6 253.1Z"/>
<path fill-rule="evenodd" fill="#00ffd7" d="M385.6 287.9 383.4 288.6 382.1 292.1 376.6 299.9 367.1 309.1 353.4 315.1 339.1 323.4 331.4 333.6 330.9 344.9 332.4 361.9 334.9 366.9 339.6 382.9 347.9 391.6 358.6 393.6 373.6 391.6 382.1 383.1 385.6 375.9 387.1 369.4 387.1 365.6 385.6 361.4 386.4 340.9 383.6 321.4 386.1 311.1 389.4 306.4 387.6 291.4ZM123.6 253.1 122.4 258.4 115.4 265.9 111.1 272.4 100.6 300.1 101.9 313.6 99.1 323.9 98.4 333.1 104.9 352.6 111.9 366.9 115.1 377.4 114.4 388.1 111.4 397.9 109.6 407.6 108.6 422.4 158.9 422.4 159.1 416.4 162.1 402.4 166.9 388.6 173.6 382.9 183.9 379.9 192.6 379.6 201.4 382.4 220.4 398.1 229.6 407.1 233.6 408.9 238.1 407.4 244.6 397.6 250.6 377.4 252.4 368.1 259.1 354.4 261.9 342.4 268.9 322.4 270.1 315.9 270.1 311.9 264.6 290.6 255.6 268.4 262.1 253.1 246.6 253.1 252.1 268.6 241.1 304.9 240.6 315.4 235.1 330.1 223.4 350.6 218.9 361.1 209.4 370.4 199.1 374.9 189.4 376.6 182.9 376.6 172.1 374.6 168.4 372.1 163.1 362.1 156.6 333.9 146.4 312.9 144.4 302.1 145.1 282.1 151.4 267.4 154.6 253.1Z"/>
<path fill-rule="evenodd" fill="#00ff96" d="M376.9 310.6 355.6 315.9 350.9 318.1 340.6 325.1 334.6 333.6 333.4 341.6 334.6 361.4 337.6 367.4 342.1 382.1 345.1 386.1 349.6 388.9 361.9 390.9 372.1 388.6 377.4 384.6 383.9 374.4 384.9 369.4 383.4 355.1 384.4 342.9 378.6 313.4ZM255.6 291.9 252.4 293.4 245.6 301.4 243.6 306.9 243.1 314.6 239.9 324.6 232.4 340.1 225.1 351.1 221.1 361.1 205.1 377.9 206.6 381.6 214.1 390.9 229.1 403.6 232.9 405.4 236.6 404.4 239.6 401.6 241.9 397.9 250.9 365.6 256.4 353.1 265.1 321.4 266.1 315.1 265.4 305.9 261.4 296.9ZM140.6 258.9 133.4 258.9 122.1 265.6 119.1 268.6 111.1 281.9 103.1 300.9 103.9 313.6 101.1 323.9 100.4 333.1 106.6 351.4 113.9 367.6 116.6 377.1 116.1 387.4 112.6 399.6 111.1 408.6 110.4 422.4 156.4 422.4 157.9 410.1 161.4 397.9 166.4 386.1 171.1 379.4 167.6 374.6 161.9 363.4 154.6 333.6 144.9 312.6 142.1 300.4 141.4 281.1 144.6 271.9 144.9 265.9 143.1 260.4Z"/>
<path fill-rule="evenodd" fill="#00ff46" d="M369.9 316.4 355.6 317.6 347.1 322.1 338.4 332.1 336.1 341.1 336.9 361.4 340.4 367.4 344.6 381.4 346.6 384.1 358.6 388.1 361.6 388.1 373.6 384.4 379.1 377.9 382.4 371.4 382.6 364.9 381.1 354.1 382.1 342.9 380.4 333.1 376.1 321.6 372.6 317.4ZM257.4 300.9 252.4 301.4 248.4 303.9 246.4 308.1 245.9 313.1 242.9 323.4 233.9 342.1 226.9 351.9 223.1 361.9 214.9 368.6 210.1 377.9 210.6 380.6 214.9 388.6 225.4 397.9 231.4 401.9 235.1 401.4 239.4 397.4 241.1 389.1 248.1 369.4 248.9 363.4 253.4 352.4 261.1 321.9 262.4 307.6 260.1 302.9ZM127.4 269.4 123.4 270.9 120.4 274.6 106.1 299.6 105.9 313.6 103.4 322.4 102.4 330.4 102.9 335.1 114.9 365.6 118.4 378.1 117.6 388.1 112.9 408.4 112.1 422.4 153.6 422.4 156.1 407.1 166.6 381.1 166.9 377.6 160.1 363.1 153.4 335.6 144.4 315.4 140.4 302.1 137.4 284.1 139.6 270.9 135.6 268.9Z"/>
<path fill-rule="evenodd" fill="#28ff07" d="M246.1 339.4 229.9 354.9 225.1 363.6 219.1 368.4 216.6 371.9 215.4 377.9 218.1 384.9 221.6 388.4 230.6 394.4 232.4 394.6 233.9 393.6 240.9 378.6 243.9 369.6 244.1 362.4 246.4 349.6ZM366.6 320.4 356.4 320.4 348.4 324.6 341.1 334.1 338.9 343.9 339.4 361.4 342.1 365.6 346.6 378.1 349.1 381.6 359.4 385.1 366.4 383.9 372.4 381.6 378.9 373.9 380.1 369.6 380.4 365.1 378.9 355.4 379.4 341.9 378.1 336.6 373.1 324.9 369.6 321.4ZM127.1 281.4 117.4 291.6 110.1 302.1 108.6 313.1 105.6 322.1 104.6 329.9 104.9 334.4 116.1 363.4 120.1 378.1 119.4 388.1 115.4 408.1 116.6 422.4 149.1 422.4 153.4 407.4 162.4 388.1 164.9 377.4 158.4 362.9 156.4 351.9 150.6 332.4 128.6 281.9Z"/>
<path fill-rule="evenodd" fill="#96ff00" d="M235.4 363.1 231.6 363.4 227.9 365.4 223.1 371.4 222.4 374.1 222.9 377.6 226.6 381.6 228.9 382.1 231.9 380.6 236.4 374.9 237.4 366.6ZM357.4 324.9 350.1 328.6 347.4 331.4 344.9 336.1 342.6 343.9 341.9 357.6 342.9 362.9 350.4 376.6 355.9 380.6 361.1 381.6 367.1 380.6 370.4 379.1 375.4 374.4 376.6 371.9 377.6 364.9 376.1 354.9 376.4 342.9 371.9 331.9 367.6 326.6 363.6 324.9ZM123.9 299.4 118.4 303.4 113.9 309.6 108.4 321.6 107.1 332.9 110.6 344.1 117.9 361.1 121.9 376.6 121.4 387.6 119.1 401.6 119.4 408.9 123.1 416.1 125.6 418.4 139.4 418.6 142.1 417.4 147.1 412.1 155.6 399.1 160.6 388.4 163.4 378.1 160.4 369.6 156.9 363.1 154.9 352.1 149.1 332.6 139.4 312.4 132.9 303.9 126.6 299.9Z"/>
<path fill-rule="evenodd" fill="#f2f500" d="M229.4 369.4 228.4 372.1 230.1 373.1 231.1 370.9ZM359.1 329.4 351.6 332.9 349.1 336.9 345.6 347.9 344.9 360.9 346.4 365.1 349.9 370.4 355.1 376.1 358.9 378.4 365.4 378.4 368.9 376.9 372.9 373.4 374.6 368.6 373.1 343.9 367.6 333.6 363.6 330.4ZM126.1 307.9 117.1 312.9 111.1 321.1 109.6 333.4 112.9 343.9 120.9 362.6 123.9 376.6 122.4 396.4 122.6 405.9 128.4 411.1 136.1 411.6 145.1 408.1 153.9 398.6 158.9 388.4 161.6 377.4 155.6 364.4 153.4 353.1 149.6 343.1 147.6 333.1 142.9 323.1 136.1 312.4 130.9 308.4Z"/>
<path fill-rule="evenodd" fill="#ffbb00" d="M357.6 337.1 353.1 339.9 349.4 346.4 347.9 355.1 347.9 361.6 349.9 366.4 354.6 372.9 359.6 376.4 365.1 376.4 367.6 375.4 370.1 372.9 372.4 368.1 372.6 364.9 370.6 353.1 368.6 345.9 365.6 341.1 361.4 337.6ZM125.1 312.4 118.9 315.1 113.4 321.1 112.1 323.6 111.6 332.1 114.6 342.4 123.4 364.4 125.9 377.4 126.4 401.9 129.4 406.4 136.4 407.9 143.9 405.1 151.4 398.4 157.1 387.6 159.9 377.6 158.1 372.1 153.1 363.1 151.4 353.6 148.1 344.6 145.9 334.4 139.4 321.6 132.9 314.1 128.9 312.4Z"/>
<path fill-rule="evenodd" fill="#ff8200" d="M356.9 344.6 353.9 347.1 352.6 349.6 351.6 361.4 355.6 369.9 359.6 373.1 363.6 373.9 365.9 373.1 368.9 368.6 369.4 364.4 366.6 353.1 362.9 347.4 360.1 345.4ZM123.4 316.6 118.9 318.6 115.1 322.6 114.1 332.9 124.6 363.4 127.6 379.4 129.4 397.9 132.6 403.4 137.4 404.4 142.1 402.9 149.4 397.6 155.1 387.4 157.9 377.6 156.4 372.4 151.1 363.4 148.6 351.9 141.9 331.4 136.6 322.9 131.6 318.1 128.4 316.9Z"/>
<path fill-rule="evenodd" fill="#ff4600" d="M125.1 324.4 121.6 326.4 119.4 331.9 119.1 337.4 120.4 346.9 125.9 364.4 131.6 396.9 134.9 400.9 139.9 401.4 146.9 397.6 149.6 394.4 154.1 384.9 155.1 376.4 153.9 371.9 149.6 363.9 145.6 349.6 139.4 334.6 132.9 327.1 127.9 324.6Z"/>
<path fill-rule="evenodd" fill="#ff1900" d="M129.1 333.4 126.9 334.4 123.4 338.1 122.4 348.4 126.4 362.1 133.1 394.9 136.6 398.4 140.4 399.1 146.4 395.9 150.1 390.1 152.4 384.1 152.1 374.1 140.6 343.9 133.6 334.4Z"/>
<path fill-rule="evenodd" fill="#ff0600" d="M130.9 338.6 125.9 341.4 124.4 348.1 134.6 392.4 137.9 395.6 141.1 396.4 146.6 392.6 149.6 386.1 149.4 373.6 144.1 358.1 138.9 346.6 134.6 341.1Z"/></g>
<g clip-path="url(#cpc)"><rect x="82" y="432.5" width="355.5" height="171" fill="#000000"/>
<path fill-rule="evenodd" fill="#140019" d="M437.4 534.1 435.1 539.1 437.4 542.9ZM82.1 432.6 82.1 446.4 82.9 437.6 84.6 434.1 86.4 437.6 87.4 446.6 87.1 459.1 85.6 467.1 84.6 468.1 83.1 465.9 82.1 455.9 82.1 519.9 82.6 515.6 84.1 513.6 85.4 514.9 86.4 519.9 85.1 529.9 84.4 530.6 83.4 530.1 82.1 524.4 82.1 580.9 83.9 568.6 85.4 567.6 87.1 570.9 88.4 581.1 88.1 592.9 86.4 601.6 84.9 602.6 83.6 601.1 82.1 589.4 82.1 603.4 181.6 603.4 180.4 601.9 180.6 599.9 185.1 596.6 193.4 594.4 202.4 593.4 217.4 594.1 227.1 596.6 231.6 599.9 231.9 601.9 230.6 603.4 437.4 603.4 437.4 547.4 433.1 550.9 426.9 552.4 420.4 551.9 405.6 547.4 399.9 543.9 395.1 538.6 392.4 533.4 390.9 526.9 391.6 519.1 393.9 513.4 397.6 508.4 403.1 504.1 409.1 501.6 417.9 500.9 421.6 497.4 426.4 495.1 429.9 495.1 433.1 496.4 437.4 501.1 437.4 462.1 428.6 463.1 390.1 459.4 336.4 473.1 307.4 477.9 303.4 472.6 301.6 466.9 300.9 449.1 302.4 432.6ZM334.4 595.1 337.4 592.1 341.6 590.9 347.6 590.6 355.1 592.9 356.9 595.9 353.4 599.1 343.4 600.4 336.4 598.4ZM420.9 577.9 424.1 578.4 427.9 580.4 430.9 584.1 432.4 589.1 431.9 593.6 429.9 597.6 427.1 600.4 423.1 602.1 418.4 601.9 414.1 599.6 411.1 595.6 409.9 590.9 410.6 585.9 413.1 581.6 416.9 578.9ZM290.9 579.6 294.6 576.4 304.1 575.1 311.1 577.1 312.9 578.6 313.4 580.6 309.6 583.9 299.9 585.1 293.1 583.1 291.4 581.6ZM185.4 559.4 188.1 556.9 194.1 555.9 199.1 557.4 200.6 558.9 200.9 560.9 197.6 563.6 192.4 564.4 186.9 562.6 185.4 560.9ZM148.4 530.9 151.1 528.1 160.4 524.9 172.1 523.1 185.9 522.9 198.1 524.1 207.9 526.6 211.9 528.6 213.6 530.4 213.9 532.4 208.6 536.4 200.9 538.6 189.9 540.1 176.6 540.4 162.9 538.9 153.6 536.4 148.6 532.9ZM290.6 501.4 293.1 499.4 298.9 498.1 329.6 499.9 331.6 501.4 333.9 505.4 331.9 512.4 332.4 514.4 345.6 515.1 358.4 519.9 360.1 521.4 360.9 535.1 356.6 540.9 353.6 543.4 328.4 545.1 311.6 542.6 298.1 538.4 295.4 536.4 290.9 524.6 289.1 512.1ZM368.9 499.9 375.1 495.6 378.9 494.9 384.1 495.4 387.9 496.9 391.4 499.9 393.1 503.4 392.9 507.9 389.4 512.4 386.4 514.1 381.4 515.4 375.1 514.6 370.9 512.4 367.6 508.4 367.1 503.4ZM178.6 498.1 182.6 495.4 190.6 494.6 196.9 496.1 198.9 498.6 197.4 500.6 195.1 501.6 186.1 502.4 180.1 500.6ZM148.1 463.9 149.9 461.9 153.6 460.4 164.6 459.6 172.4 461.9 174.1 464.9 172.9 466.6 169.1 468.4 159.1 469.4 151.1 467.6 148.6 465.9ZM167.1 440.1 169.4 437.9 172.6 436.6 183.1 435.9 191.6 438.4 193.1 441.1 191.9 442.9 188.1 444.6 177.6 445.6 169.1 443.4 167.6 442.1Z"/>
<path fill-rule="evenodd" fill="#2d003c" d="M88.1 432.6 90.1 445.4 89.9 460.4 87.4 471.1 85.1 472.9 82.1 471.4 82.1 510.1 85.6 509.1 88.9 513.4 89.9 518.1 89.9 526.1 88.6 531.6 85.9 535.1 82.1 534.1 82.1 565.4 84.4 563.4 86.9 563.9 89.1 567.1 90.1 571.1 91.1 590.4 88.9 603.4 177.9 603.4 177.4 599.6 181.6 595.1 190.1 592.1 201.1 590.6 216.4 591.1 227.4 593.6 233.9 597.9 235.1 601.1 234.4 603.4 414.6 603.4 409.4 598.4 407.4 593.4 407.1 588.4 408.4 583.6 410.6 580.1 414.6 576.6 419.4 574.4 423.1 574.4 428.1 576.1 433.6 581.6 435.4 588.4 434.9 594.6 431.6 600.1 427.6 603.4 437.4 603.4 437.4 551.6 431.1 555.4 421.9 555.9 401.6 548.6 394.1 542.1 388.4 532.6 387.4 528.4 387.6 518.1 377.4 518.9 372.6 517.6 366.4 513.1 363.4 506.9 363.9 501.4 366.4 497.1 370.1 493.9 377.6 491.4 382.9 491.4 389.6 493.6 394.1 497.4 397.6 503.1 407.1 498.4 416.4 497.1 420.6 493.6 425.1 492.1 432.6 492.6 437.4 496.1 437.4 465.1 432.9 466.9 389.9 462.9 335.6 476.4 321.6 479.1 305.9 480.9 303.1 478.1 299.1 469.9 298.1 447.9 299.4 432.6ZM330.9 594.1 333.9 590.9 337.1 589.1 342.4 587.9 348.6 587.9 353.4 588.9 357.6 591.1 359.6 593.9 359.9 596.6 357.4 600.1 353.6 602.1 349.1 603.1 342.1 603.1 333.9 600.1 331.9 597.9ZM287.9 579.1 290.1 575.6 294.4 573.4 305.4 572.4 309.9 573.4 314.1 575.6 316.1 578.4 316.4 581.4 313.4 586.1 307.4 588.4 302.4 588.6 291.1 585.4 288.6 582.9ZM182.4 558.9 183.4 556.9 187.1 553.9 190.9 552.4 195.4 552.4 198.6 553.4 202.9 556.9 203.9 561.6 199.6 565.9 189.6 566.6 183.4 563.4ZM145.4 530.4 149.6 525.6 157.4 522.6 174.6 519.4 193.6 519.9 210.1 524.4 215.9 528.4 216.9 533.1 212.6 537.6 202.9 541.9 194.1 543.4 182.9 543.9 164.9 542.1 153.4 539.4 146.1 534.6ZM287.6 502.1 293.6 496.9 299.6 495.1 331.9 497.1 334.9 499.6 337.6 504.1 336.9 510.9 346.6 511.6 360.9 516.9 363.4 518.9 364.6 528.4 363.6 536.4 356.6 545.1 347.1 546.9 329.4 548.1 308.9 545.4 298.9 542.4 293.4 538.9 288.4 526.4 286.1 510.9ZM175.4 497.6 177.9 494.4 180.9 492.9 191.1 491.9 198.4 493.6 201.4 496.1 202.1 498.6 201.4 500.9 197.4 503.9 190.1 505.9 184.6 505.9 178.9 503.9 175.9 500.6ZM144.9 464.4 145.6 461.9 148.4 459.4 153.6 457.4 159.6 456.6 165.6 456.9 171.9 458.4 176.6 461.9 177.4 464.4 176.6 466.9 174.1 469.4 164.1 472.1 155.9 471.9 150.1 470.4 146.4 467.9ZM164.1 439.4 167.4 435.6 171.9 433.9 184.4 433.1 190.6 434.6 193.9 436.4 195.9 438.6 196.1 442.1 194.1 444.9 189.9 447.1 183.6 448.4 176.6 448.4 167.1 445.6 164.1 442.1Z"/>
<path fill-rule="evenodd" fill="#410058" d="M437.4 595.6 436.4 598.1 431.9 603.4 437.4 603.4ZM90.6 432.6 92.6 445.4 92.1 462.9 91.1 468.6 89.1 473.1 86.1 475.4 82.1 475.1 82.1 506.6 84.1 502.6 93.6 513.9 97.1 522.9 93.6 530.9 84.6 542.6 83.6 542.4 82.1 537.6 82.1 561.4 85.4 560.6 88.6 561.9 91.4 565.9 93.6 579.9 93.6 590.4 91.6 603.4 175.1 603.4 175.1 598.4 180.4 592.9 189.9 589.6 201.1 588.1 216.4 588.6 229.6 591.9 233.4 593.9 236.6 597.4 237.6 600.4 237.1 603.4 334.4 603.4 327.4 597.4 301.9 596.9 300.6 595.6 299.1 590.9 289.6 587.4 286.1 580.9 286.4 576.1 291.4 571.9 300.6 569.9 308.1 570.4 315.4 573.4 318.6 577.6 319.6 584.1 328.9 589.4 331.4 589.4 335.9 586.9 342.4 585.4 349.1 585.9 358.6 589.4 362.1 593.1 362.4 597.1 361.1 599.9 356.9 603.4 410.4 603.4 405.6 594.6 404.6 588.1 407.1 580.6 414.6 572.4 414.9 561.1 413.9 556.9 412.1 554.9 405.4 553.1 398.1 549.4 392.9 544.6 386.9 536.1 372.6 533.4 367.9 533.6 364.9 539.1 359.9 545.1 347.6 548.4 329.1 550.6 314.6 548.4 299.1 547.9 291.1 540.1 286.4 528.4 283.6 511.1 284.4 504.9 287.4 500.6 298.4 492.9 334.1 494.1 346.6 491.6 366.1 485.9 385.4 483.6 409.1 485.4 421.9 488.9 434.9 490.1 437.4 491.9 437.4 469.1 436.9 474.1 433.6 475.1 423.6 473.4 410.1 469.1 393.6 467.1 386.1 467.1 369.1 470.4 324.1 482.1 306.4 483.6 303.9 482.9 301.6 480.6 296.6 470.4 295.6 447.9 296.9 432.6 192.1 432.6 195.4 434.4 198.1 437.4 198.9 439.9 198.4 443.4 193.9 448.1 183.9 450.9 171.6 450.1 165.9 447.9 162.9 445.1 161.4 441.4 161.9 437.9 165.4 433.9 168.1 432.6ZM179.1 491.1 193.9 490.6 199.1 491.9 201.1 493.4 204.4 497.6 204.1 501.1 200.6 505.1 193.9 508.1 194.1 513.1 197.6 518.1 213.4 523.1 217.9 526.9 219.4 529.9 219.4 533.6 217.6 536.9 214.6 539.4 207.6 542.9 203.6 549.1 202.9 552.4 206.1 557.4 206.6 560.9 205.4 563.9 200.9 567.1 188.9 567.6 182.4 564.9 180.4 563.1 179.6 560.9 180.1 557.4 183.9 552.4 183.1 549.1 180.4 546.4 163.4 544.4 150.6 540.9 145.9 538.1 142.9 533.6 143.6 527.9 148.4 523.4 156.1 520.4 167.1 518.4 170.6 516.1 174.1 505.6 172.9 500.1 173.1 496.1 175.4 493.1ZM142.4 463.6 143.9 459.9 148.6 456.4 156.4 454.4 162.9 454.1 170.1 455.1 175.1 457.1 178.9 460.6 179.9 465.1 178.4 468.9 173.9 472.4 166.4 474.4 157.9 474.6 151.9 473.6 145.9 470.9 142.9 467.1Z"/>
<path fill-rule="evenodd" fill="#550074" d="M437.4 601.1 435.4 603.4 437.4 603.4ZM93.4 432.6 95.4 446.6 94.1 466.4 91.4 474.4 88.9 476.9 83.6 479.4 83.1 488.4 87.6 501.6 95.9 512.4 99.9 520.9 99.6 524.4 97.6 529.1 86.9 545.1 84.6 552.6 84.9 557.1 89.1 559.1 91.9 561.6 93.9 565.4 95.1 570.9 96.1 590.6 94.1 603.4 172.4 603.4 172.1 599.4 173.4 596.1 178.6 591.1 188.4 587.9 202.6 585.6 217.1 586.9 231.4 591.1 238.9 596.4 240.1 600.4 239.9 603.4 329.9 603.4 327.4 600.9 324.9 599.9 298.9 599.6 297.6 598.4 297.1 593.4 288.4 589.1 284.9 579.6 284.6 575.1 290.9 570.1 301.9 568.4 311.4 569.4 316.9 571.4 320.1 574.9 322.1 581.9 328.1 585.9 330.6 586.4 338.1 583.6 342.9 583.4 354.4 586.6 361.6 589.9 364.6 592.9 364.9 597.6 361.4 603.4 408.9 603.4 403.1 591.4 402.6 585.4 404.6 579.9 411.9 571.1 412.1 560.9 410.6 557.4 401.6 554.4 396.6 551.4 390.9 546.1 385.4 538.6 373.1 536.1 369.9 536.4 365.1 542.9 361.4 545.9 331.6 552.9 314.4 550.9 297.9 550.4 295.6 549.1 289.4 542.1 284.6 530.9 281.4 512.1 281.9 505.9 284.6 501.9 299.9 490.1 332.6 491.4 345.6 488.9 366.1 482.9 386.4 480.6 408.9 482.4 422.9 486.1 437.4 487.9 437.4 478.4 424.6 476.6 409.1 471.9 387.1 469.9 368.1 473.4 323.6 485.1 304.1 485.9 299.1 481.4 295.4 474.6 294.1 470.4 293.1 447.9 294.4 432.6 196.1 432.6 199.6 436.1 201.1 439.1 200.1 445.4 197.6 447.9 190.9 451.9 176.9 454.1 180.9 458.9 182.1 462.1 182.1 466.6 180.6 469.6 177.1 472.6 171.1 475.4 163.6 476.6 156.1 476.6 148.4 474.9 144.4 472.9 140.6 468.4 139.9 462.4 141.6 458.4 147.6 453.9 155.4 451.9 164.4 451.1 160.1 445.9 158.9 442.6 159.4 436.9 163.1 432.6ZM177.1 490.4 191.1 489.6 197.1 490.4 200.6 491.9 205.4 496.9 205.9 500.6 203.6 505.9 196.9 510.1 197.6 513.9 200.9 516.6 210.4 519.1 213.9 521.1 220.1 527.1 221.9 531.1 221.6 534.9 219.9 538.1 214.6 542.4 209.6 544.9 207.6 547.4 206.1 551.9 208.6 556.9 208.9 561.4 205.6 565.1 201.6 567.6 189.6 568.4 180.1 564.6 177.4 560.6 177.9 556.1 180.4 552.1 180.4 550.6 178.9 548.9 165.6 547.1 157.1 543.6 146.4 540.9 141.9 537.4 140.6 534.9 140.1 530.6 140.9 527.6 145.4 522.4 157.1 517.6 166.1 515.9 168.6 514.1 171.1 506.6 170.6 495.6 172.9 492.4Z"/>
<path fill-rule="evenodd" fill="#65008e" d="M86.4 481.6 86.1 489.4 89.4 498.9 98.6 511.6 102.6 520.4 102.4 524.6 100.4 529.6 88.9 547.1 87.4 552.9 87.9 555.4 91.1 557.4 94.4 561.4 97.4 571.6 98.6 580.4 98.6 590.6 96.9 603.4 169.4 603.4 166.4 601.1 169.1 599.1 171.1 594.9 174.9 591.4 184.1 587.9 200.6 584.4 216.6 585.9 232.4 590.9 240.9 596.1 242.4 599.4 242.4 603.4 325.9 603.4 324.1 602.6 295.1 602.4 293.9 601.6 294.6 595.6 288.1 591.4 283.4 575.4 290.4 569.4 301.4 567.6 312.4 568.6 318.9 570.6 322.6 574.1 324.6 580.1 328.4 582.9 331.6 583.1 335.9 581.6 340.9 581.9 352.6 585.4 364.1 590.4 367.4 593.9 367.1 598.9 364.6 603.4 408.1 603.4 402.1 591.1 400.9 582.4 404.1 576.1 409.1 570.1 409.4 561.1 407.9 559.1 399.4 555.9 391.1 549.9 382.6 540.4 371.9 539.1 364.9 545.6 327.6 554.9 313.9 553.4 298.1 553.4 293.6 551.1 287.1 543.4 284.4 537.1 280.1 513.6 280.9 504.6 282.1 502.9 289.9 497.9 297.1 490.6 299.4 487.1 293.1 475.1 291.6 469.1 290.6 447.9 291.9 432.6 197.4 432.6 200.6 435.9 202.9 440.1 201.1 446.4 189.4 454.4 183.4 456.4 184.6 461.9 184.6 465.1 183.4 467.9 180.1 471.9 172.6 475.9 156.6 477.9 146.6 475.6 140.4 472.4 137.4 466.6 135.1 464.4 122.4 459.6 112.9 458.6 103.4 460.1 99.1 462.4 96.9 465.1 93.9 474.9 90.4 478.9ZM175.9 489.9 192.4 489.1 198.6 490.1 201.1 491.6 206.4 497.1 206.9 499.1 204.9 507.4 200.6 511.4 200.9 513.1 203.1 514.6 208.9 516.1 213.6 519.6 220.4 526.1 223.4 531.6 223.9 536.1 222.1 539.4 219.1 542.4 211.6 546.9 209.6 549.6 209.4 552.1 211.1 556.6 210.4 561.4 202.4 567.9 189.9 568.9 180.4 565.4 177.6 563.4 175.6 559.1 175.4 555.9 176.6 552.9 175.9 550.9 168.4 549.9 158.4 544.6 145.9 541.6 140.6 538.6 138.4 535.9 137.6 529.4 139.1 525.4 141.4 522.6 144.9 520.4 153.9 517.6 157.9 515.1 164.4 513.6 166.9 511.6 168.4 506.6 167.6 498.9 168.4 494.6 171.1 491.9Z"/>
<path fill-rule="evenodd" fill="#6a00a7" d="M88.9 483.9 88.9 489.6 92.1 498.4 100.9 510.1 105.4 520.1 104.9 525.9 99.9 536.1 93.9 543.9 90.4 551.1 90.9 553.9 93.4 556.4 96.6 563.4 100.1 579.4 100.9 593.9 99.6 603.4 150.9 603.4 166.4 597.4 169.9 593.1 176.6 589.6 200.4 583.6 213.9 584.6 231.9 590.1 240.6 594.9 242.6 596.9 244.6 603.4 286.6 603.4 290.9 599.4 291.4 597.4 287.6 593.1 282.6 575.1 289.9 568.9 302.6 566.9 318.1 569.1 323.1 572.1 325.1 574.1 327.4 578.9 329.4 580.1 337.4 579.9 354.1 585.4 366.1 590.6 369.9 594.4 369.6 597.6 367.1 603.4 407.6 603.4 401.6 591.6 399.4 584.1 400.4 578.6 406.4 569.1 406.6 562.6 387.4 548.9 381.1 542.9 373.6 541.9 365.6 546.4 345.9 550.4 323.9 556.6 296.6 555.9 291.6 553.1 285.6 545.6 283.1 539.6 279.4 514.1 279.9 505.6 281.6 502.4 290.1 497.1 296.6 489.9 296.6 486.1 291.9 475.4 290.1 468.9 288.6 444.9 289.4 432.6 198.1 432.6 200.9 435.1 203.6 439.6 201.9 446.6 187.1 457.6 185.6 466.1 180.4 472.6 171.1 477.1 158.9 478.9 150.4 477.4 139.9 473.9 136.4 471.1 134.4 467.6 129.1 464.9 118.1 461.6 112.9 461.6 104.6 462.9 101.1 464.6 92.4 480.1ZM173.1 490.1 179.9 488.6 192.4 488.6 200.6 490.6 207.4 498.1 205.6 512.1 208.9 514.1 219.9 524.6 224.9 532.9 225.6 536.6 223.6 541.4 212.6 550.4 213.1 556.6 211.4 561.1 202.1 568.4 190.4 569.4 179.9 565.6 176.9 563.1 172.6 553.1 157.9 544.9 144.4 541.6 138.1 538.1 135.6 535.1 134.9 528.9 138.4 522.6 143.9 519.6 153.6 516.9 158.4 512.9 164.4 510.1 165.6 506.4 165.9 495.1 167.9 492.6Z"/>
<path fill-rule="evenodd" fill="#5400c7" d="M91.9 484.6 91.6 489.6 94.9 497.9 103.1 508.6 108.1 519.6 106.4 529.6 103.1 536.1 96.1 545.4 93.4 550.9 95.1 558.4 97.9 564.4 101.9 583.1 102.4 603.4 140.6 603.4 163.4 595.9 171.6 591.1 179.1 588.1 200.9 582.9 213.1 583.9 230.6 589.1 242.1 595.4 245.4 600.4 245.9 603.4 281.4 603.4 287.1 597.9 285.1 585.4 282.1 576.6 282.4 574.1 289.9 568.1 300.9 566.4 309.9 566.9 319.1 568.6 325.6 572.6 330.6 577.4 336.1 578.4 366.9 590.1 371.9 594.1 368.4 603.4 406.9 603.4 400.9 591.6 398.1 582.9 403.9 567.9 403.9 564.1 401.6 560.9 394.1 554.1 379.9 545.4 374.9 544.6 343.9 551.4 323.4 557.9 310.1 558.6 305.4 559.9 296.6 559.4 287.4 552.9 282.4 543.4 280.4 522.6 278.6 514.1 279.1 506.1 280.6 502.4 291.6 494.9 295.4 490.6 295.9 488.1 289.1 468.6 286.9 432.6 199.1 432.6 204.1 439.1 204.4 441.1 202.6 446.6 189.6 456.6 188.1 459.1 187.1 465.1 183.6 470.4 180.9 473.1 174.4 476.6 163.1 479.1 155.1 479.1 139.6 474.9 127.4 467.1 114.6 464.1 107.6 464.9 102.9 466.9 97.1 473.4ZM169.6 490.6 177.9 488.1 192.9 488.1 200.6 490.1 207.6 497.1 206.6 507.4 208.1 511.6 221.4 525.4 225.9 533.1 226.6 537.1 224.4 543.6 215.9 550.6 214.6 555.9 211.9 561.4 202.4 568.6 190.9 569.9 179.6 565.9 176.9 563.9 172.1 554.6 158.1 545.4 143.6 541.9 135.9 537.6 133.1 534.4 131.9 529.1 133.9 524.6 139.9 520.1 154.6 515.4 162.1 508.1 164.1 494.9 166.4 492.4Z"/>
<path fill-rule="evenodd" fill="#2800e7" d="M95.6 478.9 94.4 485.1 95.4 491.4 98.1 497.6 105.9 507.6 111.1 519.6 109.9 528.9 105.9 536.9 99.4 545.1 95.9 551.9 96.1 558.1 98.6 563.9 102.9 583.1 104.6 603.4 134.9 603.1 158.6 596.1 182.9 586.4 199.6 582.4 212.4 583.1 230.4 588.6 241.9 594.6 245.1 598.4 247.1 603.4 276.9 603.4 283.4 598.1 285.6 595.1 284.1 584.6 281.4 576.6 281.6 573.9 289.6 567.4 300.9 565.4 319.4 567.6 332.9 576.1 371.1 591.1 373.6 593.1 373.9 595.1 369.9 603.4 405.9 603.4 405.1 600.6 400.4 592.9 396.9 583.1 397.1 580.4 400.9 570.6 400.9 562.9 394.1 555.4 382.1 548.6 372.6 547.1 356.4 549.1 343.4 552.1 320.6 559.9 307.1 562.4 295.6 562.1 285.9 555.4 280.9 542.9 279.6 524.1 277.9 514.6 278.4 506.4 279.6 502.4 289.1 496.4 294.4 490.4 294.6 487.9 288.4 470.1 285.4 432.6 200.4 432.6 204.9 439.6 202.6 447.6 194.6 453.1 190.6 457.1 188.1 465.6 183.9 471.6 180.9 474.4 172.9 478.4 159.4 480.6 156.1 480.4 139.9 476.1 125.1 469.4 117.1 467.1 107.6 467.9 103.9 469.6 98.1 474.1ZM167.9 490.1 178.4 487.1 192.4 487.4 200.6 489.6 208.4 497.6 207.4 506.9 208.6 510.1 213.6 516.9 222.9 526.1 227.4 534.4 227.4 538.4 224.9 545.1 219.1 549.4 211.4 562.6 202.6 568.9 190.6 570.4 177.9 565.4 171.9 555.4 163.1 548.6 158.4 545.9 144.4 542.6 136.1 538.9 131.9 535.4 129.1 531.1 129.9 526.4 132.9 522.6 138.9 519.1 152.4 515.4 154.9 513.4 159.9 506.4 163.1 493.4Z"/>
<path fill-rule="evenodd" fill="#0707fc" d="M320.6 563.6 320.6 564.9 327.6 570.9 341.4 578.9 377.1 589.9 379.1 592.1 379.4 594.9 375.1 603.4 401.4 603.4 395.6 593.1 392.9 585.9 393.1 581.1 397.4 571.1 397.1 562.6 391.9 556.4 382.4 551.1 371.9 549.1 353.4 550.6 337.1 555.1 324.4 560.9ZM283.4 432.6 201.9 432.6 205.4 439.4 203.4 447.6 193.6 456.6 192.1 458.9 189.9 467.4 186.4 473.4 182.6 478.1 176.9 482.4 183.1 483.1 198.9 488.1 208.1 495.9 209.1 497.9 208.4 505.1 209.1 508.1 213.6 514.9 224.1 525.9 228.9 536.1 226.1 545.4 220.4 550.1 211.1 563.4 201.4 569.6 191.9 571.4 177.6 565.6 171.6 555.9 161.6 548.1 156.6 545.6 144.6 543.1 134.4 539.1 126.6 533.4 124.1 530.1 124.1 525.4 127.9 519.9 136.1 516.4 149.6 512.4 152.4 510.1 155.6 504.6 159.4 490.4 161.4 488.1 168.1 484.4 158.1 484.9 136.6 477.4 117.1 472.6 109.4 473.4 102.4 476.9 99.9 481.6 99.9 486.6 101.9 494.1 116.6 518.4 116.1 526.4 114.6 530.1 101.9 546.1 98.1 553.9 98.1 558.1 99.9 562.9 104.1 583.9 105.4 595.1 107.6 603.4 128.6 603.4 144.6 599.9 163.6 593.6 190.6 582.6 196.9 581.6 212.4 582.4 230.1 588.1 242.6 594.6 246.4 598.9 248.6 603.4 271.1 603.4 272.6 600.9 281.6 592.1 281.9 584.6 280.4 577.1 280.6 573.9 290.6 564.4 290.1 562.6 283.6 556.4 278.9 544.9 277.1 532.6 276.4 512.6 277.9 503.4 280.1 500.4 287.1 495.6 291.4 489.9 291.4 487.1 286.6 468.9 283.9 445.4Z"/>
<path fill-rule="evenodd" fill="#0030ff" d="M326.9 563.9 327.6 567.1 331.1 571.1 342.1 577.6 358.6 581.9 382.6 585.1 385.4 584.4 392.4 572.4 393.4 568.1 393.1 564.4 391.9 561.9 387.4 557.4 381.4 553.9 369.4 551.4 357.4 551.6 344.1 554.1 333.1 558.6ZM107.6 483.9 107.1 491.6 110.1 499.9 117.9 510.1 122.9 514.1 129.1 513.4 143.9 509.1 147.6 507.1 151.1 502.1 152.9 494.9 152.9 489.9 150.9 487.6 143.6 483.6 132.4 480.1 118.9 478.6 113.4 479.6ZM280.9 432.6 203.9 432.6 205.9 438.4 204.9 445.4 203.6 448.6 197.6 456.1 194.9 461.1 189.9 478.1 197.4 486.1 209.1 495.9 210.6 506.9 215.6 513.9 227.1 526.6 230.4 533.9 229.9 539.6 227.9 544.9 215.4 558.1 211.1 563.9 203.9 569.1 197.6 570.9 192.4 574.1 184.1 568.6 177.4 565.9 170.9 555.6 159.6 547.4 133.6 540.4 119.9 534.9 117.4 535.4 106.1 544.9 101.1 553.9 103.4 573.4 107.1 594.6 111.9 603.4 123.9 603.4 128.6 601.6 135.6 601.1 147.1 598.6 166.1 592.1 181.6 585.6 191.6 578.6 204.9 581.4 212.4 581.4 231.1 588.1 241.4 593.4 253.1 603.4 264.4 603.4 267.4 599.1 275.9 590.9 278.9 574.6 285.4 564.6 275.1 544.6 272.1 532.4 273.9 513.4 276.4 502.9 278.1 499.6 285.1 492.4 287.1 487.9 283.1 456.1 280.6 445.6Z"/>
<path fill-rule="evenodd" fill="#0064ff" d="M330.6 564.6 332.4 569.6 340.4 575.1 348.4 577.6 360.6 579.4 373.1 579.4 381.1 578.1 386.6 573.1 389.1 567.9 387.9 562.6 382.9 558.1 375.6 555.1 366.1 553.6 354.6 553.9 343.1 556.1 334.9 559.9ZM104.4 553.1 105.1 571.6 108.9 593.6 114.4 599.9 116.6 601.1 135.6 600.4 146.9 598.1 156.9 594.9 180.6 585.1 184.4 581.6 187.9 576.4 188.1 573.6 187.1 571.6 183.9 569.1 176.6 565.9 169.4 554.9 161.4 548.9 153.6 545.6 131.4 541.4 118.9 540.6 109.1 545.9ZM114.1 487.9 113.1 490.6 113.1 495.1 114.4 498.9 119.1 504.4 124.9 507.6 132.6 507.4 140.1 505.4 145.6 501.4 147.1 498.1 147.6 493.9 146.4 490.9 143.4 488.1 138.1 485.4 131.6 483.9 122.9 483.9 117.1 485.4ZM205.9 432.6 206.6 441.4 204.6 448.6 197.6 463.6 195.6 477.1 200.4 487.1 210.4 495.9 211.4 503.6 212.9 506.6 228.4 524.1 231.6 531.1 232.4 535.1 230.1 543.9 222.9 553.1 216.6 557.9 212.6 563.1 203.4 569.9 198.9 571.1 197.1 573.1 196.4 576.1 204.6 580.4 212.6 580.1 229.4 586.9 243.1 593.9 249.4 598.4 254.4 598.9 259.1 597.9 265.9 593.9 270.4 589.1 277.6 573.4 282.1 565.9 278.1 554.4 271.4 545.1 266.9 532.4 271.1 513.6 275.1 501.1 282.9 488.1 282.9 476.6 280.6 456.9 277.4 446.9 278.4 432.6Z"/>
<path fill-rule="evenodd" fill="#0093ff" d="M333.6 565.6 334.6 568.6 340.1 572.9 348.6 575.6 355.9 576.6 364.6 576.6 374.6 574.9 382.1 571.1 384.9 567.1 383.6 562.9 379.9 559.9 373.1 557.1 363.6 555.6 355.6 555.6 345.4 557.4 337.4 560.9 334.6 563.4ZM107.4 552.9 107.1 572.1 110.9 592.9 117.6 597.9 136.9 599.4 154.6 595.1 167.4 590.4 179.1 584.4 181.6 581.9 185.4 574.6 184.9 571.4 181.9 568.9 176.6 566.6 170.6 557.1 167.6 554.1 159.9 548.6 152.6 545.9 132.4 543.1 119.4 544.4 110.4 548.4ZM118.1 493.9 118.4 496.9 120.6 499.6 127.9 502.4 137.1 501.1 140.4 499.1 142.1 496.4 142.1 493.9 140.1 491.1 132.9 488.1 126.9 488.1 123.1 489.1 120.1 490.9ZM207.9 432.6 207.1 443.6 199.9 467.9 199.4 477.1 200.9 484.9 204.4 490.1 211.4 494.9 213.6 504.1 230.6 523.1 234.1 531.1 234.6 534.4 232.1 544.4 223.9 554.9 216.4 559.4 211.4 565.1 206.6 568.9 200.6 571.6 199.4 574.6 204.9 578.6 213.1 578.4 248.9 596.6 252.4 596.6 262.6 590.6 272.4 578.9 279.6 567.1 276.1 555.6 268.4 546.9 262.1 533.9 262.1 531.4 268.4 513.9 279.6 486.9 280.1 474.6 278.4 457.9 274.4 447.1 276.1 432.6Z"/>
<path fill-rule="evenodd" fill="#00c0ff" d="M339.6 565.4 340.4 568.1 344.1 571.1 349.9 573.4 356.6 574.4 370.4 573.1 376.9 570.1 379.6 566.9 379.4 564.6 375.9 561.1 370.9 558.9 364.4 557.6 355.1 557.6 349.4 558.6 342.9 561.6ZM110.4 553.4 109.4 573.4 111.1 584.4 113.4 591.6 118.6 596.1 135.9 598.4 145.9 596.9 155.6 594.1 172.9 585.9 178.1 580.1 180.6 574.1 179.9 570.9 174.9 566.6 169.4 557.1 164.9 552.6 153.1 546.9 146.4 545.6 128.6 544.9 117.6 546.9 112.4 550.4ZM209.9 432.6 208.4 446.6 202.4 467.6 201.9 478.4 202.9 485.1 205.4 489.4 213.1 494.4 215.9 503.6 233.6 522.1 237.1 528.1 238.6 533.1 235.4 545.1 224.1 557.6 215.1 563.1 211.1 568.1 209.9 572.1 223.4 581.6 248.4 594.9 251.1 595.1 257.1 591.6 262.6 586.9 272.4 574.9 277.4 567.1 273.6 556.6 265.4 547.4 263.9 541.9 259.4 533.6 260.1 529.4 267.4 510.4 277.6 486.9 278.1 474.9 276.6 459.9 272.4 447.1 274.1 432.6Z"/>
<path fill-rule="evenodd" fill="#00ebff" d="M345.4 565.1 345.6 567.1 347.9 569.4 356.6 571.9 367.9 571.1 371.4 569.9 374.6 566.6 374.4 564.4 371.4 561.6 363.6 559.6 356.4 559.6 350.4 560.9 346.6 563.1ZM113.6 553.1 111.6 573.6 114.6 587.9 116.9 592.4 119.1 594.4 137.6 596.6 153.1 594.1 169.6 585.4 174.9 576.1 175.1 571.9 165.4 554.6 162.6 552.4 153.6 548.6 146.4 547.1 128.6 546.6 118.9 548.4ZM212.1 432.6 210.9 446.9 204.6 467.6 204.1 479.1 205.1 486.1 207.1 488.6 215.9 494.4 218.9 504.1 239.6 523.6 243.1 532.1 242.9 535.1 238.1 547.4 227.4 558.1 217.4 565.1 215.9 568.4 218.4 572.6 225.1 579.9 241.4 589.6 250.6 593.4 255.1 590.9 259.6 586.6 274.9 567.4 270.6 556.9 261.9 547.9 261.6 542.4 256.9 533.6 257.9 528.9 267.6 503.9 273.6 492.9 275.9 486.6 276.4 477.6 274.6 459.4 270.6 447.4 272.4 432.6Z"/>
<path fill-rule="evenodd" fill="#00ffd7" d="M353.6 565.4 354.9 566.6 359.6 567.4 364.6 566.9 366.6 565.6 364.6 564.4 360.9 563.9ZM116.6 553.9 113.6 573.4 116.4 585.6 119.9 591.9 134.4 594.9 151.6 593.1 160.4 588.9 168.6 582.1 171.4 574.9 171.6 571.9 166.6 560.6 162.4 554.6 150.1 549.9 133.9 548.9 120.4 550.6ZM215.1 432.6 213.4 446.1 206.6 467.1 205.9 477.9 207.1 485.9 217.4 493.4 220.9 502.9 224.9 506.9 244.6 522.4 249.1 531.9 240.9 548.4 233.1 556.4 221.1 566.6 220.9 568.9 227.6 578.1 244.1 588.9 250.4 591.1 254.6 588.6 258.6 584.4 271.6 567.4 271.1 564.4 267.1 556.4 258.6 548.4 258.1 542.1 252.1 532.9 253.4 527.9 266.4 501.6 270.9 494.6 273.9 486.9 274.4 475.1 272.9 459.9 268.9 447.6 270.1 432.6Z"/>
<path fill-rule="evenodd" fill="#00ff96" d="M119.4 556.1 116.9 563.4 115.6 573.4 118.6 584.9 122.4 589.4 133.6 592.4 151.6 591.4 160.4 586.4 165.9 580.1 168.4 573.9 168.1 570.9 164.6 561.9 158.9 555.9 148.1 552.9 130.1 552.1 122.1 554.1ZM251.6 542.4 248.6 543.1 227.1 564.9 225.6 567.4 226.4 570.9 232.4 577.9 237.9 582.4 248.4 588.4 251.9 587.4 259.4 580.4 267.9 566.9 264.9 558.4 261.6 553.9 255.9 549.1 253.4 543.9ZM218.9 432.6 215.6 446.6 208.4 466.6 207.6 477.6 208.9 484.6 210.9 487.6 218.9 492.9 223.1 501.4 227.4 506.1 240.1 514.4 249.9 518.1 251.6 517.9 256.1 513.9 268.4 495.4 271.9 485.4 272.1 468.1 270.9 458.9 266.9 447.1 266.9 432.6Z"/>
<path fill-rule="evenodd" fill="#00ff46" d="M121.4 559.1 118.9 565.1 117.9 573.9 121.1 584.1 125.6 587.1 135.1 590.1 150.4 589.6 159.4 584.1 164.9 574.4 165.1 570.9 162.6 563.4 155.9 557.4 150.4 556.4 129.9 555.6ZM249.9 547.9 247.9 548.4 241.1 553.9 229.6 566.9 230.1 569.6 236.1 577.6 247.6 585.6 250.9 584.6 257.9 578.6 264.4 566.6 262.4 560.4 259.4 554.9ZM223.4 432.6 210.1 466.4 209.4 477.1 210.9 484.1 213.4 487.9 222.4 494.1 226.4 501.6 229.1 504.6 240.1 510.6 247.9 511.6 252.1 511.1 267.1 493.9 269.6 485.1 270.4 467.4 268.4 456.6 264.6 446.4 263.6 432.6Z"/>
<path fill-rule="evenodd" fill="#28ff07" d="M249.4 563.9 248.1 564.1 245.4 567.6 245.9 569.4 247.4 570.4 249.1 569.1 250.4 566.4ZM124.6 564.1 122.6 572.6 125.1 580.6 136.1 586.1 147.6 586.1 150.9 584.9 155.9 580.9 159.6 572.1 157.9 565.6 154.1 562.1 151.4 561.1 143.1 560.1 131.6 560.4ZM228.1 432.6 225.9 438.9 215.4 457.6 212.1 466.1 211.6 477.6 213.1 483.1 215.1 486.6 223.9 492.9 228.6 500.1 231.4 502.6 240.9 506.9 250.6 506.9 260.1 498.6 264.9 493.4 266.6 489.6 268.4 478.6 268.4 467.6 266.4 457.4 262.1 446.6 258.9 432.6Z"/>
<path fill-rule="evenodd" fill="#96ff00" d="M131.6 569.1 130.9 573.1 131.9 575.9 135.1 578.9 139.1 580.4 143.1 580.4 147.1 579.1 149.6 576.9 151.1 572.9 150.9 570.1 148.9 567.9 143.1 565.6 137.1 565.9ZM236.4 436.1 234.6 436.9 227.6 444.1 218.9 456.9 214.4 466.4 214.4 477.1 217.6 484.4 231.9 498.6 240.4 502.1 248.9 502.6 256.9 498.4 264.4 489.4 266.1 478.4 265.4 464.9 263.1 455.6 258.9 446.4 251.9 436.6 245.9 435.4Z"/>
<path fill-rule="evenodd" fill="#f2f500" d="M140.6 571.4 139.4 572.9 141.6 574.1 142.9 572.6ZM242.6 441.6 236.1 443.1 231.6 445.9 222.4 456.4 216.6 466.6 217.1 477.4 222.1 485.9 230.1 494.1 237.9 497.9 248.6 498.9 256.4 495.9 262.9 487.4 263.9 479.9 263.4 467.4 261.1 456.9 255.9 447.4 249.9 442.6Z"/>
<path fill-rule="evenodd" fill="#ffbb00" d="M242.1 444.1 237.4 445.1 232.6 447.9 224.4 457.1 218.6 466.9 218.6 474.6 224.1 485.4 230.6 492.1 238.6 495.9 248.9 496.6 255.6 493.9 261.1 486.6 262.1 477.9 261.4 467.4 259.4 457.9 254.1 448.6 249.1 444.9Z"/>
<path fill-rule="evenodd" fill="#ff8200" d="M242.6 446.4 237.9 447.4 234.4 449.4 225.4 459.1 220.6 467.6 220.6 474.1 225.4 483.6 231.9 490.4 239.9 493.9 248.4 494.4 253.4 492.6 259.1 485.4 259.9 478.6 259.4 468.4 257.4 458.9 252.1 449.9 248.4 447.1Z"/>
<path fill-rule="evenodd" fill="#ff4600" d="M239.9 451.6 233.9 454.6 227.4 460.9 223.4 468.6 223.4 473.6 227.9 482.4 232.9 486.9 240.1 489.6 246.9 489.6 250.9 487.9 254.6 483.4 256.1 477.1 255.9 467.6 253.9 460.6 250.1 455.1 246.1 451.9Z"/>
<path fill-rule="evenodd" fill="#ff1900" d="M239.1 457.1 234.9 458.6 230.1 462.1 227.1 467.1 226.4 472.4 228.4 477.9 231.6 481.6 236.9 484.4 242.4 484.9 246.4 483.9 249.4 481.4 251.9 476.1 252.4 469.9 251.1 464.9 247.6 459.9 243.4 457.1Z"/>
<path fill-rule="evenodd" fill="#ff0600" d="M238.9 461.4 234.1 462.9 231.4 465.4 229.6 469.4 229.6 472.9 230.9 476.1 233.4 478.9 239.6 480.9 242.9 480.1 246.4 477.6 248.1 474.9 248.9 470.9 248.1 467.6 245.9 464.1 242.9 462.1Z"/></g>
<defs><mask id="mb" maskUnits="userSpaceOnUse" x="0" y="0" width="630" height="643"><rect x="0" y="0" width="630" height="643" fill="#fff"/><rect x="-12.5" y="-3.6" width="25.0" height="7.2" fill="#000" transform="translate(181.0 263.0) rotate(-38.0)"/><rect x="-9.5" y="-3.6" width="19.0" height="7.2" fill="#000" transform="translate(90.0 292.0) rotate(-90.0)"/><rect x="-9.5" y="-3.6" width="19.0" height="7.2" fill="#000" transform="translate(97.5 406.0) rotate(-90.0)"/><rect x="-12.5" y="-3.6" width="25.0" height="7.2" fill="#000" transform="translate(128.0 389.0) rotate(-90.0)"/><rect x="-12.5" y="-3.6" width="25.0" height="7.2" fill="#000" transform="translate(204.0 362.0) rotate(-40.0)"/><rect x="-12.5" y="-3.6" width="25.0" height="7.2" fill="#000" transform="translate(216.0 414.0) rotate(35.0)"/><rect x="-12.5" y="-3.6" width="25.0" height="7.2" fill="#000" transform="translate(288.0 270.0) rotate(90.0)"/><rect x="-12.5" y="-3.6" width="25.0" height="7.2" fill="#000" transform="translate(353.0 297.0) rotate(-42.0)"/><rect x="-12.5" y="-3.6" width="25.0" height="7.2" fill="#000" transform="translate(290.0 344.0) rotate(-5.0)"/><rect x="-12.5" y="-3.6" width="25.0" height="7.2" fill="#000" transform="translate(411.0 382.0) rotate(-70.0)"/><rect x="-12.5" y="-3.6" width="25.0" height="7.2" fill="#000" transform="translate(417.0 267.0) rotate(-72.0)"/><rect x="-12.5" y="-3.6" width="25.0" height="7.2" fill="#000" transform="translate(350.7 359.0) rotate(-90.0)"/></mask><mask id="mc" maskUnits="userSpaceOnUse" x="0" y="0" width="630" height="643"><rect x="0" y="0" width="630" height="643" fill="#fff"/><rect x="-12.5" y="-3.6" width="25.0" height="7.2" fill="#000" transform="translate(145.0 476.0) rotate(5.0)"/><rect x="-12.5" y="-3.6" width="25.0" height="7.2" fill="#000" transform="translate(161.5 512.0) rotate(-65.0)"/><rect x="-12.5" y="-3.6" width="25.0" height="7.2" fill="#000" transform="translate(210.0 569.5) rotate(-15.0)"/><rect x="-12.5" y="-3.6" width="25.0" height="7.2" fill="#000" transform="translate(230.0 587.5) rotate(15.0)"/><rect x="-12.5" y="-3.6" width="25.0" height="7.2" fill="#000" transform="translate(297.0 483.0) rotate(68.0)"/><rect x="-12.5" y="-3.6" width="25.0" height="7.2" fill="#000" transform="translate(356.0 547.8) rotate(-4.0)"/><rect x="-12.5" y="-3.6" width="25.0" height="7.2" fill="#000" transform="translate(363.5 586.0) rotate(14.0)"/><rect x="-9.5" y="-3.6" width="19.0" height="7.2" fill="#000" transform="translate(93.5 554.0) rotate(-90.0)"/><rect x="-12.5" y="-3.6" width="25.0" height="7.2" fill="#000" transform="translate(228.0 487.0) rotate(30.0)"/></mask></defs>
<g clip-path="url(#cpb)">
<polygon points="82.0,253.0 130.0,253.0 120.0,422.5 82.0,422.5" fill="url(#hb)"/>
<polyline points="130.0,253.0 120.0,422.5" fill="none" stroke="#d8c020" stroke-width="0.9"/>
<polygon points="437.5,422.5 399.4,422.5 390.0,253.0 437.5,253.0" fill="url(#hb)"/>
<polyline points="399.4,422.5 390.0,253.0" fill="none" stroke="#d8c020" stroke-width="0.9"/>
<path d="M87.6 253.0V422.5" stroke="#ece4f4" stroke-width="1.3"/>
<path d="M201.3 253.0V422.5" stroke="#ece4f4" stroke-width="1.3"/>
<path d="M307.3 253.0V422.5" stroke="#ece4f4" stroke-width="1.3"/>
<path d="M435.6 253.0V422.5" stroke="#ece4f4" stroke-width="1.3"/>
<g mask="url(#mb)">
<path d="M70.0 245.0C76.3 214.2 101.7 243.7 108.0 245.0C114.3 246.3 109.3 251.0 108.0 253.0C106.7 255.0 102.9 254.3 100.0 256.8C97.1 259.3 92.6 263.9 90.6 268.0C88.5 272.1 88.5 276.2 87.7 281.6C86.9 287.0 86.3 295.4 85.8 300.6C85.3 305.8 85.2 309.3 84.9 313.0C84.6 316.7 84.2 319.7 84.0 323.0C83.8 326.3 83.8 329.7 84.0 333.0C84.2 336.3 84.0 339.7 84.9 343.0C85.8 346.3 87.5 349.7 89.6 353.0C91.6 356.3 95.0 360.5 97.2 363.0C99.4 365.5 101.4 365.5 103.0 368.0C104.6 370.5 106.3 374.7 106.8 378.0C107.3 381.3 106.8 384.7 105.8 388.0C104.8 391.3 102.1 394.7 101.0 398.0C99.9 401.3 99.3 404.7 99.0 408.0C98.7 411.3 99.0 414.3 99.0 418.0C99.0 421.7 103.8 428.0 99.0 430.0C94.2 432.0 74.8 460.8 70.0 430.0C65.2 399.2 63.7 275.8 70.0 245.0Z" fill="none" stroke="#fff" stroke-width="1.5"/>
<path d="M192.0 245.0C188.0 246.3 193.2 251.0 192.0 253.0C190.8 255.0 188.1 254.5 185.0 257.0C181.9 259.5 177.7 263.9 173.4 268.0C169.1 272.1 161.8 276.2 159.0 281.6C156.2 287.0 156.1 295.4 156.3 300.6C156.5 305.8 158.4 309.3 160.0 313.0C161.6 316.7 163.9 319.7 165.8 323.0C167.7 326.3 170.2 329.7 171.5 333.0C172.8 336.3 173.3 339.7 173.5 343.0C173.7 346.3 172.4 349.8 172.5 353.0C172.6 356.2 172.8 359.8 174.0 362.0C175.2 364.2 177.0 365.7 180.0 366.5C183.0 367.3 188.7 367.2 192.0 367.0C195.3 366.8 197.9 366.2 200.0 365.5C202.1 364.8 203.4 365.1 204.8 363.0C206.2 360.9 207.3 356.3 208.6 353.0C209.9 349.7 211.1 346.3 212.4 343.0C213.7 339.7 214.6 336.3 216.2 333.0C217.8 329.7 220.6 326.3 221.9 323.0C223.2 319.7 224.0 315.5 223.8 313.0C223.7 310.5 221.6 310.5 221.0 308.0C220.4 305.5 219.8 301.3 220.0 298.0C220.2 294.7 220.6 291.3 221.9 288.0C223.2 284.7 226.3 281.3 227.6 278.0C228.9 274.7 230.1 271.2 229.5 268.0C228.9 264.8 226.2 261.2 224.0 259.0C221.8 256.8 217.5 257.3 216.2 255.0C214.9 252.7 220.0 246.7 216.0 245.0C212.0 243.3 196.0 243.7 192.0 245.0Z" fill="none" stroke="#fff" stroke-width="1.5"/>
<path d="M170.0 430.0C157.6 428.8 170.3 426.3 170.5 423.0C170.7 419.7 170.8 413.5 171.0 410.0C171.2 406.5 170.7 404.6 171.4 402.0C172.1 399.4 173.0 396.1 175.2 394.5C177.4 392.9 181.0 392.5 184.8 392.2C188.6 391.9 194.7 391.9 198.0 392.6C201.3 393.3 203.0 394.8 204.8 396.4C206.6 398.0 207.2 399.9 208.6 402.0C210.0 404.1 211.1 406.8 213.0 409.0C214.9 411.2 217.7 413.6 220.0 415.5C222.3 417.4 224.0 419.1 226.7 420.2C229.4 421.3 233.1 421.4 236.2 422.0C239.2 422.6 243.5 422.2 245.0 423.5C246.5 424.8 257.5 428.9 245.0 430.0C232.5 431.1 182.4 431.2 170.0 430.0Z" fill="none" stroke="#fff" stroke-width="1.5"/>
<path d="M287.0 245.0C274.5 246.3 287.3 249.2 287.0 253.0C286.7 256.8 285.6 261.8 285.2 268.0C284.8 274.2 284.9 283.2 284.8 290.0C284.7 296.8 284.7 304.6 284.8 309.0C284.9 313.4 284.8 314.3 285.7 316.7C286.6 319.1 288.6 321.4 290.5 323.3C292.4 325.2 294.3 326.7 297.0 328.0C299.7 329.3 303.2 330.7 306.7 331.0C310.2 331.3 314.5 330.8 318.0 330.0C321.5 329.2 324.4 328.1 327.6 326.2C330.8 324.3 334.3 321.6 337.0 318.6C339.7 315.6 341.0 311.4 343.7 308.0C346.4 304.6 350.3 301.3 353.2 298.0C356.1 294.7 359.1 291.3 360.9 288.0C362.6 284.7 363.4 281.3 363.7 278.0C364.0 274.7 363.1 271.8 362.8 268.0C362.5 264.2 362.0 258.8 361.8 255.0C361.6 251.2 374.3 246.7 361.8 245.0C349.3 243.3 299.5 243.7 287.0 245.0Z" fill="none" stroke="#fff" stroke-width="1.5"/>
<path d="M262.0 430.0C231.1 428.2 264.2 423.6 264.8 419.3C265.4 415.0 265.7 408.1 265.7 404.0C265.7 399.9 265.1 398.2 264.8 395.0C264.5 391.8 263.8 388.8 263.8 385.0C263.8 381.2 264.0 375.7 264.8 372.0C265.6 368.3 267.0 366.2 268.6 363.0C270.2 359.8 272.4 355.8 274.3 353.0C276.2 350.2 277.4 347.6 280.0 346.0C282.6 344.4 286.2 344.0 290.0 343.5C293.8 343.0 299.3 342.8 303.0 343.0C306.7 343.2 309.4 344.2 312.0 345.0C314.6 345.8 317.0 346.7 318.5 348.0C320.0 349.3 320.3 350.5 320.9 353.0C321.4 355.5 321.5 359.7 321.8 363.0C322.1 366.3 322.3 369.7 322.8 373.0C323.3 376.3 323.9 379.7 324.7 383.0C325.5 386.3 325.8 390.0 327.5 393.0C329.2 396.0 331.2 399.2 335.0 401.0C338.8 402.8 344.2 403.1 350.0 403.5C355.8 403.9 364.2 403.7 370.0 403.5C375.8 403.3 380.8 402.9 385.0 402.5C389.2 402.1 391.9 402.6 395.0 401.0C398.1 399.4 401.6 396.0 403.7 393.0C405.8 390.0 406.6 386.3 407.5 383.0C408.4 379.7 409.8 375.8 409.4 373.0C409.0 370.2 406.9 368.2 405.0 366.5C403.1 364.8 399.5 364.4 398.0 363.0C396.5 361.6 396.6 359.7 396.1 358.0C395.6 356.3 395.4 355.5 395.1 353.0C394.8 350.5 393.4 346.3 394.2 343.0C395.0 339.7 397.6 336.3 400.0 333.0C402.4 329.7 406.8 326.3 408.5 323.0C410.2 319.7 409.9 315.5 410.4 313.0C410.9 310.5 411.0 310.5 411.3 308.0C411.6 305.5 412.1 301.3 412.3 298.0C412.5 294.7 412.0 291.3 412.3 288.0C412.6 284.7 413.8 281.3 414.2 278.0C414.6 274.7 414.0 271.8 415.0 268.0C416.0 264.2 419.0 258.8 420.0 255.0C421.0 251.2 416.0 246.7 421.0 245.0C426.0 243.3 445.2 214.2 450.0 245.0C454.8 275.8 481.3 399.2 450.0 430.0C418.7 460.8 292.9 431.8 262.0 430.0Z" fill="none" stroke="#fff" stroke-width="1.5"/>
<path d="M123.8 315.7C121.6 315.9 119.7 316.8 118.0 318.0C116.3 319.2 114.2 320.5 113.4 323.0C112.6 325.5 112.8 329.7 113.4 333.0C114.0 336.3 115.9 339.7 117.2 343.0C118.5 346.3 119.7 349.7 121.0 353.0C122.3 356.3 124.1 360.5 124.9 363.0C125.7 365.5 125.3 365.5 125.8 368.0C126.3 370.5 127.2 374.7 127.7 378.0C128.2 381.3 128.4 384.7 128.7 388.0C129.0 391.3 129.0 395.5 129.6 398.0C130.2 400.5 130.9 401.9 132.0 403.0C133.1 404.1 134.3 404.6 136.0 404.5C137.7 404.4 139.9 403.6 142.0 402.5C144.1 401.4 146.6 400.4 148.7 398.0C150.8 395.6 152.8 391.3 154.4 388.0C156.0 384.7 157.9 380.8 158.2 378.0C158.5 375.2 156.8 372.7 156.0 371.0C155.2 369.3 154.3 369.3 153.4 368.0C152.5 366.7 151.4 365.5 150.6 363.0C149.8 360.5 149.5 356.3 148.7 353.0C147.9 349.7 146.8 346.3 145.8 343.0C144.9 339.7 144.4 336.3 143.0 333.0C141.6 329.7 139.2 325.7 137.2 323.0C135.2 320.3 133.2 318.2 131.0 317.0C128.8 315.8 126.0 315.5 123.8 315.7Z" fill="none" stroke="#e80000" stroke-width="1.5"/>
<path d="M356.0 343.5C354.3 343.9 352.8 346.4 352.0 348.0C351.2 349.6 351.6 351.0 351.3 353.0C351.0 355.0 350.4 358.0 350.4 360.0C350.4 362.0 350.7 363.2 351.5 365.0C352.3 366.8 353.4 369.3 355.0 371.0C356.6 372.7 359.0 374.7 361.0 375.2C363.0 375.7 365.4 375.4 367.0 374.0C368.6 372.6 370.0 369.3 370.4 367.0C370.8 364.7 370.0 362.5 369.4 360.0C368.8 357.5 368.2 354.4 367.0 352.0C365.8 349.6 363.8 346.9 362.0 345.5C360.2 344.1 357.7 343.1 356.0 343.5Z" fill="none" stroke="#e80000" stroke-width="1.5"/>
</g>
<text transform="translate(181.0 263.0) rotate(-38.0)" font-family="Liberation Serif, serif" font-style="italic" font-size="9.5" fill="#fff" text-anchor="middle" dominant-baseline="central" textLength="23.0" lengthAdjust="spacingAndGlyphs">99.9%</text>
<text transform="translate(90.0 292.0) rotate(-90.0)" font-family="Liberation Serif, serif" font-style="italic" font-size="9.5" fill="#fff" text-anchor="middle" dominant-baseline="central" textLength="17.0" lengthAdjust="spacingAndGlyphs">99.9</text>
<text transform="translate(97.5 406.0) rotate(-90.0)" font-family="Liberation Serif, serif" font-style="italic" font-size="9.5" fill="#fff" text-anchor="middle" dominant-baseline="central" textLength="17.0" lengthAdjust="spacingAndGlyphs">99.9</text>
<text transform="translate(128.0 389.0) rotate(-90.0)" font-family="Liberation Serif, serif" font-style="italic" font-size="9.5" fill="#e00000" text-anchor="middle" dominant-baseline="central" textLength="23.0" lengthAdjust="spacingAndGlyphs">70.0%</text>
<text transform="translate(204.0 362.0) rotate(-40.0)" font-family="Liberation Serif, serif" font-style="italic" font-size="9.5" fill="#fff" text-anchor="middle" dominant-baseline="central" textLength="23.0" lengthAdjust="spacingAndGlyphs">99.9%</text>
<text transform="translate(216.0 414.0) rotate(35.0)" font-family="Liberation Serif, serif" font-style="italic" font-size="9.5" fill="#fff" text-anchor="middle" dominant-baseline="central" textLength="23.0" lengthAdjust="spacingAndGlyphs">99.9%</text>
<text transform="translate(288.0 270.0) rotate(90.0)" font-family="Liberation Serif, serif" font-style="italic" font-size="9.5" fill="#fff" text-anchor="middle" dominant-baseline="central" textLength="23.0" lengthAdjust="spacingAndGlyphs">99.9%</text>
<text transform="translate(353.0 297.0) rotate(-42.0)" font-family="Liberation Serif, serif" font-style="italic" font-size="9.5" fill="#fff" text-anchor="middle" dominant-baseline="central" textLength="23.0" lengthAdjust="spacingAndGlyphs">99.9%</text>
<text transform="translate(290.0 344.0) rotate(-5.0)" font-family="Liberation Serif, serif" font-style="italic" font-size="9.5" fill="#fff" text-anchor="middle" dominant-baseline="central" textLength="23.0" lengthAdjust="spacingAndGlyphs">99.9%</text>
<text transform="translate(411.0 382.0) rotate(-70.0)" font-family="Liberation Serif, serif" font-style="italic" font-size="9.5" fill="#fff" text-anchor="middle" dominant-baseline="central" textLength="23.0" lengthAdjust="spacingAndGlyphs">99.9%</text>
<text transform="translate(417.0 267.0) rotate(-72.0)" font-family="Liberation Serif, serif" font-style="italic" font-size="9.5" fill="#fff" text-anchor="middle" dominant-baseline="central" textLength="23.0" lengthAdjust="spacingAndGlyphs">99.9%</text>
<text transform="translate(350.7 359.0) rotate(-90.0)" font-family="Liberation Serif, serif" font-style="italic" font-size="9.5" fill="#e00000" text-anchor="middle" dominant-baseline="central" textLength="23.0" lengthAdjust="spacingAndGlyphs">70.0%</text>
</g>
<g clip-path="url(#cpc)">
<polygon points="82.0,432.5 134.3,432.5 121.4,603.5 82.0,603.5" fill="url(#hc)"/>
<polyline points="134.3,432.5 121.4,603.5" fill="none" stroke="#d8c020" stroke-width="0.9"/>
<polygon points="437.5,603.5 398.0,603.5 386.7,432.5 437.5,432.5" fill="url(#hc)"/>
<polyline points="398.0,603.5 386.7,432.5" fill="none" stroke="#d8c020" stroke-width="0.9"/>
<path d="M87.0 432.5V603.5" stroke="#ece4f4" stroke-width="1.3"/>
<path d="M201.3 432.5V603.5" stroke="#ece4f4" stroke-width="1.3"/>
<path d="M307.5 432.5V603.5" stroke="#ece4f4" stroke-width="1.3"/>
<path d="M435.6 432.5V603.5" stroke="#ece4f4" stroke-width="1.3"/>
<g mask="url(#mc)">
<path d="M70.0 425.0C77.7 394.2 108.6 423.8 116.3 425.0C124.0 426.2 115.7 429.6 116.3 432.0C116.9 434.4 118.1 437.4 120.0 439.6C121.9 441.8 124.8 444.2 127.7 445.3C130.6 446.4 134.0 446.9 137.2 446.3C140.4 445.7 143.9 443.4 146.8 441.5C149.7 439.6 152.5 436.5 154.4 434.9C156.3 433.3 157.6 433.6 158.2 432.0C158.8 430.4 151.7 426.2 158.2 425.0C164.7 423.8 190.5 423.8 197.0 425.0C203.5 426.2 196.5 430.5 197.0 432.0C197.5 433.5 198.8 432.7 200.0 434.0C201.2 435.3 204.2 437.8 204.5 440.0C204.8 442.2 203.7 445.4 202.0 447.2C200.3 449.0 196.6 449.4 194.4 451.0C192.2 452.6 190.0 454.4 188.7 456.8C187.4 459.2 188.1 462.8 186.8 465.3C185.5 467.8 183.6 470.1 181.0 472.0C178.4 473.9 175.3 475.7 171.5 476.8C167.7 477.9 162.6 478.8 158.2 478.7C153.8 478.6 149.3 477.1 145.0 476.0C140.7 474.9 135.7 473.1 132.5 472.0C129.3 470.9 128.5 470.1 125.8 469.1C123.1 468.2 119.5 466.6 116.3 466.3C113.1 466.0 110.0 466.2 106.8 467.2C103.6 468.1 99.4 469.9 97.2 472.0C95.0 474.1 94.0 476.9 93.4 479.6C92.8 482.3 92.8 485.0 93.4 488.0C94.0 491.0 95.3 494.3 97.2 497.5C99.1 500.7 102.7 503.5 104.9 507.0C107.1 510.5 109.8 515.0 110.6 518.5C111.4 522.0 110.5 524.8 109.6 528.0C108.6 531.2 106.7 534.7 104.9 537.5C103.2 540.3 100.8 542.6 99.1 545.0C97.4 547.4 95.8 549.8 95.0 552.0C94.2 554.2 94.1 556.0 94.5 558.0C94.9 560.0 96.4 561.6 97.2 564.0C98.0 566.4 98.3 569.3 99.1 572.6C99.9 575.9 101.3 580.5 102.0 584.0C102.7 587.5 102.7 590.7 103.0 593.5C103.3 596.3 103.8 598.2 104.0 601.0C104.2 603.8 109.7 608.5 104.0 610.0C98.3 611.5 75.7 640.8 70.0 610.0C64.3 579.2 62.3 455.8 70.0 425.0Z" fill="none" stroke="#fff" stroke-width="1.5"/>
<path d="M164.0 493.7C164.9 492.3 165.5 492.6 167.7 491.8C169.9 491.0 173.1 489.5 177.2 489.0C181.3 488.5 188.7 488.8 192.5 489.0C196.3 489.2 197.5 488.6 200.0 490.0C202.5 491.4 206.7 494.7 207.6 497.5C208.5 500.3 205.1 503.8 205.7 507.0C206.3 510.2 208.8 513.4 211.4 516.6C214.0 519.8 218.4 522.8 221.0 526.0C223.6 529.2 226.1 532.4 226.7 535.6C227.3 538.8 226.1 543.0 224.8 545.0C223.5 547.0 220.6 546.1 219.0 547.8C217.4 549.5 216.4 553.0 215.2 555.4C214.0 557.8 213.7 560.1 212.0 562.0C210.3 563.9 206.7 565.9 205.0 567.0C203.3 568.1 204.7 568.5 202.0 568.8C199.3 569.1 192.8 569.4 188.7 568.8C184.6 568.2 180.1 567.2 177.2 565.0C174.3 562.8 174.0 558.3 171.5 555.4C169.0 552.5 164.2 549.5 162.0 547.8C159.8 546.1 161.0 546.0 158.2 545.1C155.3 544.2 149.0 543.7 144.9 542.3C140.8 540.9 136.1 538.6 133.4 536.6C130.7 534.6 129.0 532.1 128.7 530.0C128.4 527.9 129.8 525.8 131.5 524.2C133.2 522.6 135.3 521.7 139.1 520.4C142.9 519.1 150.9 518.7 154.4 516.6C157.9 514.5 158.7 510.8 160.0 508.0C161.3 505.2 161.3 502.4 162.0 500.0C162.7 497.6 163.1 495.1 164.0 493.7Z" fill="none" stroke="#fff" stroke-width="1.5"/>
<path d="M125.0 610.0C105.4 609.0 126.3 605.8 129.6 604.0C132.9 602.2 139.5 601.0 144.9 599.2C150.3 597.5 156.0 595.4 162.0 593.5C168.0 591.6 174.3 589.5 181.0 587.8C187.7 586.0 196.9 583.6 202.0 583.0C207.1 582.4 208.4 583.5 211.4 584.0C214.4 584.5 216.9 585.2 220.0 586.0C223.1 586.8 226.3 587.6 230.0 589.0C233.7 590.4 239.3 592.5 241.9 594.5C244.5 596.5 244.8 598.4 245.7 601.0C246.5 603.6 267.1 608.5 247.0 610.0C226.9 611.5 144.6 611.0 125.0 610.0Z" fill="none" stroke="#fff" stroke-width="1.5"/>
<path d="M285.7 425.0C258.3 426.2 285.4 428.3 285.7 432.0C286.0 435.7 287.1 442.6 287.6 447.0C288.1 451.4 288.3 454.9 288.6 458.7C288.9 462.5 288.8 466.4 289.5 470.0C290.2 473.6 291.8 476.7 293.0 480.0C294.2 483.3 297.5 487.0 297.0 490.0C296.5 493.0 292.8 495.8 290.0 498.0C287.2 500.2 281.8 500.5 280.0 503.0C278.2 505.5 278.8 509.7 279.0 513.0C279.2 516.3 280.5 519.7 281.0 523.0C281.5 526.3 281.8 529.5 281.9 533.0C282.0 536.5 281.3 540.3 281.9 544.0C282.5 547.7 283.5 552.6 285.7 555.4C287.9 558.2 291.7 560.1 295.2 561.0C298.7 561.9 302.9 561.3 306.7 561.0C310.5 560.7 314.2 560.1 318.0 559.2C321.8 558.3 325.3 556.8 329.4 555.4C333.5 554.0 338.4 552.0 342.8 550.7C347.2 549.4 351.6 548.3 356.0 547.5C360.4 546.7 364.9 546.0 369.4 546.0C373.9 546.0 378.7 546.5 382.8 547.8C386.9 549.0 391.0 551.3 394.2 553.5C397.4 555.7 400.5 557.8 401.8 561.0C403.1 564.2 402.4 569.1 401.8 572.6C401.2 576.1 398.0 578.8 398.0 582.0C398.0 585.2 400.2 588.4 401.8 591.6C403.4 594.8 406.3 597.9 407.5 601.0C408.7 604.1 401.9 608.5 409.0 610.0C416.1 611.5 443.2 640.8 450.0 610.0C456.8 579.2 477.4 455.8 450.0 425.0C422.6 394.2 313.1 423.8 285.7 425.0Z" fill="none" stroke="#fff" stroke-width="1.5"/>
<path d="M276.2 610.0C261.0 609.0 274.3 606.4 276.2 604.0C278.1 601.6 286.0 598.7 287.6 595.4C289.2 592.1 286.6 587.5 285.7 584.0C284.8 580.5 281.3 577.0 281.9 574.5C282.5 572.0 286.0 570.1 289.5 568.8C293.0 567.5 298.1 566.9 302.9 566.9C307.6 566.9 313.6 567.5 318.0 568.8C322.4 570.1 325.6 572.5 329.4 574.5C333.2 576.5 337.1 579.2 340.9 581.0C344.7 582.8 348.0 583.5 352.0 585.0C356.0 586.5 361.5 588.6 365.0 590.0C368.5 591.4 372.8 591.2 373.2 593.5C373.6 595.8 368.4 601.2 367.5 604.0C366.6 606.8 382.7 609.0 367.5 610.0C352.3 611.0 291.4 611.0 276.2 610.0Z" fill="none" stroke="#fff" stroke-width="1.5"/>
<path d="M243.8 442.0C241.5 442.1 238.2 442.7 236.0 443.5C233.8 444.3 232.8 444.8 230.5 447.0C228.2 449.2 224.3 453.7 221.9 457.0C219.5 460.3 217.0 463.7 216.2 467.0C215.4 470.3 216.0 473.7 217.1 477.0C218.2 480.3 220.8 484.2 222.9 487.0C225.1 489.8 227.5 492.2 230.0 494.0C232.5 495.8 235.0 496.8 238.0 497.5C241.0 498.2 245.0 498.8 248.0 498.5C251.0 498.2 253.8 497.4 256.0 496.0C258.2 494.6 259.9 491.5 261.0 490.0C262.1 488.5 262.4 489.2 262.9 487.0C263.4 484.8 263.8 480.3 263.8 477.0C263.8 473.7 263.4 470.3 262.9 467.0C262.4 463.7 262.3 460.3 261.0 457.0C259.7 453.7 257.0 449.3 255.2 447.0C253.4 444.7 251.9 443.8 250.0 443.0C248.1 442.2 246.1 441.9 243.8 442.0Z" fill="none" stroke="#e80000" stroke-width="1.5"/>
<path d="M127.7 572.6C127.9 570.5 128.1 567.9 130.0 566.5C131.9 565.1 136.0 564.1 139.1 564.0C142.2 563.9 146.2 565.1 148.7 565.9C151.2 566.7 152.6 567.6 154.0 569.0C155.4 570.4 157.5 572.3 157.2 574.5C156.9 576.7 153.7 580.4 152.0 582.0C150.3 583.6 149.6 583.8 146.8 584.0C144.0 584.2 138.3 583.8 135.3 583.0C132.3 582.2 130.0 580.9 128.7 579.2C127.4 577.5 127.5 574.7 127.7 572.6Z" fill="none" stroke="#e80000" stroke-width="1.5"/>
<ellipse cx="249.4" cy="567.2" rx="4.3" ry="3.5" fill="none" stroke="#e80000" stroke-width="1.4"/>
</g>
<text transform="translate(145.0 476.0) rotate(5.0)" font-family="Liberation Serif, serif" font-style="italic" font-size="9.5" fill="#fff" text-anchor="middle" dominant-baseline="central" textLength="23.0" lengthAdjust="spacingAndGlyphs">99.9%</text>
<text transform="translate(161.5 512.0) rotate(-65.0)" font-family="Liberation Serif, serif" font-style="italic" font-size="9.5" fill="#fff" text-anchor="middle" dominant-baseline="central" textLength="23.0" lengthAdjust="spacingAndGlyphs">99.9%</text>
<text transform="translate(210.0 569.5) rotate(-15.0)" font-family="Liberation Serif, serif" font-style="italic" font-size="9.5" fill="#fff" text-anchor="middle" dominant-baseline="central" textLength="23.0" lengthAdjust="spacingAndGlyphs">99.9%</text>
<text transform="translate(230.0 587.5) rotate(15.0)" font-family="Liberation Serif, serif" font-style="italic" font-size="9.5" fill="#fff" text-anchor="middle" dominant-baseline="central" textLength="23.0" lengthAdjust="spacingAndGlyphs">99.9%</text>
<text transform="translate(297.0 483.0) rotate(68.0)" font-family="Liberation Serif, serif" font-style="italic" font-size="9.5" fill="#fff" text-anchor="middle" dominant-baseline="central" textLength="23.0" lengthAdjust="spacingAndGlyphs">99.9%</text>
<text transform="translate(356.0 547.8) rotate(-4.0)" font-family="Liberation Serif, serif" font-style="italic" font-size="9.5" fill="#fff" text-anchor="middle" dominant-baseline="central" textLength="23.0" lengthAdjust="spacingAndGlyphs">99.9%</text>
<text transform="translate(363.5 586.0) rotate(14.0)" font-family="Liberation Serif, serif" font-style="italic" font-size="9.5" fill="#fff" text-anchor="middle" dominant-baseline="central" textLength="23.0" lengthAdjust="spacingAndGlyphs">99.9%</text>
<text transform="translate(93.5 554.0) rotate(-90.0)" font-family="Liberation Serif, serif" font-style="italic" font-size="9.5" fill="#fff" text-anchor="middle" dominant-baseline="central" textLength="17.0" lengthAdjust="spacingAndGlyphs">99.9</text>
<text transform="translate(228.0 487.0) rotate(30.0)" font-family="Liberation Serif, serif" font-style="italic" font-size="9.5" fill="#e00000" text-anchor="middle" dominant-baseline="central" textLength="23.0" lengthAdjust="spacingAndGlyphs">70.0%</text>
</g>
<path d="M79 420.4H82.0M437.5 420.4H441.3M75 416.5H82.0M437.5 416.5H441.3M79 412.6H82.0M437.5 412.6H441.3M79 408.7H82.0M437.5 408.7H441.3M79 404.8H82.0M437.5 404.8H441.3M79 401.0H82.0M437.5 401.0H441.3M79 397.1H82.0M437.5 397.1H441.3M79 393.2H82.0M437.5 393.2H441.3M79 389.3H82.0M437.5 389.3H441.3M79 385.4H82.0M437.5 385.4H441.3M79 381.5H82.0M437.5 381.5H441.3M75 377.6H82.0M437.5 377.6H441.3M79 373.7H82.0M437.5 373.7H441.3M79 369.9H82.0M437.5 369.9H441.3M79 366.0H82.0M437.5 366.0H441.3M79 362.1H82.0M437.5 362.1H441.3M79 358.2H82.0M437.5 358.2H441.3M79 354.3H82.0M437.5 354.3H441.3M79 350.4H82.0M437.5 350.4H441.3M79 346.5H82.0M437.5 346.5H441.3M79 342.6H82.0M437.5 342.6H441.3M75 338.8H82.0M437.5 338.8H441.3M79 334.9H82.0M437.5 334.9H441.3M79 331.0H82.0M437.5 331.0H441.3M79 327.1H82.0M437.5 327.1H441.3M79 323.2H82.0M437.5 323.2H441.3M79 319.3H82.0M437.5 319.3H441.3M79 315.4H82.0M437.5 315.4H441.3M79 311.5H82.0M437.5 311.5H441.3M79 307.6H82.0M437.5 307.6H441.3M79 303.8H82.0M437.5 303.8H441.3M75 299.9H82.0M437.5 299.9H441.3M79 296.0H82.0M437.5 296.0H441.3M79 292.1H82.0M437.5 292.1H441.3M79 288.2H82.0M437.5 288.2H441.3M79 284.3H82.0M437.5 284.3H441.3M79 280.4H82.0M437.5 280.4H441.3M79 276.6H82.0M437.5 276.6H441.3M79 272.7H82.0M437.5 272.7H441.3M79 268.8H82.0M437.5 268.8H441.3M79 264.9H82.0M437.5 264.9H441.3M75 261.0H82.0M437.5 261.0H441.3M79 257.1H82.0M437.5 257.1H441.3M79 253.2H82.0M437.5 253.2H441.3M93.1 253.0V251.2M93.1 422.5V424.7M104.2 253.0V251.2M104.2 422.5V424.7M115.2 253.0V251.2M115.2 422.5V424.7M126.3 253.0V250.2M126.3 422.5V426.0M137.4 253.0V251.2M137.4 422.5V424.7M148.4 253.0V251.2M148.4 422.5V424.7M159.5 253.0V251.2M159.5 422.5V424.7M170.5 253.0V251.2M170.5 422.5V424.7M181.6 253.0V250.2M181.6 422.5V426.0M192.7 253.0V251.2M192.7 422.5V424.7M203.7 253.0V251.2M203.7 422.5V424.7M214.8 253.0V251.2M214.8 422.5V424.7M225.8 253.0V251.2M225.8 422.5V424.7M236.9 253.0V250.2M236.9 422.5V426.0M248.0 253.0V251.2M248.0 422.5V424.7M259.0 253.0V251.2M259.0 422.5V424.7M270.1 253.0V251.2M270.1 422.5V424.7M281.1 253.0V251.2M281.1 422.5V424.7M292.2 253.0V250.2M292.2 422.5V426.0M303.3 253.0V251.2M303.3 422.5V424.7M314.3 253.0V251.2M314.3 422.5V424.7M325.4 253.0V251.2M325.4 422.5V424.7M336.4 253.0V251.2M336.4 422.5V424.7M347.5 253.0V250.2M347.5 422.5V426.0M358.6 253.0V251.2M358.6 422.5V424.7M369.6 253.0V251.2M369.6 422.5V424.7M380.7 253.0V251.2M380.7 422.5V424.7M391.7 253.0V251.2M391.7 422.5V424.7M402.8 253.0V250.2M402.8 422.5V426.0M413.9 253.0V251.2M413.9 422.5V424.7M424.9 253.0V251.2M424.9 422.5V424.7M436.0 253.0V251.2M436.0 422.5V424.7" stroke="#000" stroke-width="1.2" fill="none"/>
<path d="M437.5 416.5H444.0M437.5 377.6H444.0M437.5 338.8H444.0M437.5 299.9H444.0M437.5 261.0H444.0" stroke="#888" stroke-width="1.2" fill="none"/>
<rect x="81.6" y="252.8" width="356.3" height="170.1" fill="none" stroke="#000" stroke-width="1.3"/>
<path d="M438.8 252.5V423.5" stroke="#000" stroke-width="2.2"/>
<text x="70.8" y="265.0" font-family="Liberation Serif, serif" font-style="italic" font-size="11.5" stroke="#000" stroke-width="0.45" text-anchor="end" textLength="18.5" lengthAdjust="spacingAndGlyphs">200</text>
<text x="70.8" y="303.9" font-family="Liberation Serif, serif" font-style="italic" font-size="11.5" stroke="#000" stroke-width="0.45" text-anchor="end" textLength="18.5" lengthAdjust="spacingAndGlyphs">190</text>
<text x="70.8" y="342.8" font-family="Liberation Serif, serif" font-style="italic" font-size="11.5" stroke="#000" stroke-width="0.45" text-anchor="end" textLength="18.5" lengthAdjust="spacingAndGlyphs">180</text>
<text x="70.8" y="381.6" font-family="Liberation Serif, serif" font-style="italic" font-size="11.5" stroke="#000" stroke-width="0.45" text-anchor="end" textLength="18.5" lengthAdjust="spacingAndGlyphs">170</text>
<text x="70.8" y="420.5" font-family="Liberation Serif, serif" font-style="italic" font-size="11.5" stroke="#000" stroke-width="0.45" text-anchor="end" textLength="18.5" lengthAdjust="spacingAndGlyphs">160</text>
<path d="M79 601.7H82.0M437.5 601.7H441.3M75 598.5H82.0M437.5 598.5H441.3M79 595.3H82.0M437.5 595.3H441.3M79 592.1H82.0M437.5 592.1H441.3M79 588.9H82.0M437.5 588.9H441.3M79 585.7H82.0M437.5 585.7H441.3M79 582.5H82.0M437.5 582.5H441.3M79 579.4H82.0M437.5 579.4H441.3M79 576.2H82.0M437.5 576.2H441.3M79 573.0H82.0M437.5 573.0H441.3M79 569.8H82.0M437.5 569.8H441.3M75 566.6H82.0M437.5 566.6H441.3M79 563.4H82.0M437.5 563.4H441.3M79 560.2H82.0M437.5 560.2H441.3M79 557.0H82.0M437.5 557.0H441.3M79 553.8H82.0M437.5 553.8H441.3M79 550.6H82.0M437.5 550.6H441.3M79 547.5H82.0M437.5 547.5H441.3M79 544.3H82.0M437.5 544.3H441.3M79 541.1H82.0M437.5 541.1H441.3M79 537.9H82.0M437.5 537.9H441.3M75 534.7H82.0M437.5 534.7H441.3M79 531.5H82.0M437.5 531.5H441.3M79 528.3H82.0M437.5 528.3H441.3M79 525.1H82.0M437.5 525.1H441.3M79 521.9H82.0M437.5 521.9H441.3M79 518.8H82.0M437.5 518.8H441.3M79 515.6H82.0M437.5 515.6H441.3M79 512.4H82.0M437.5 512.4H441.3M79 509.2H82.0M437.5 509.2H441.3M79 506.0H82.0M437.5 506.0H441.3M75 502.8H82.0M437.5 502.8H441.3M79 499.6H82.0M437.5 499.6H441.3M79 496.4H82.0M437.5 496.4H441.3M79 493.2H82.0M437.5 493.2H441.3M79 490.0H82.0M437.5 490.0H441.3M79 486.9H82.0M437.5 486.9H441.3M79 483.7H82.0M437.5 483.7H441.3M79 480.5H82.0M437.5 480.5H441.3M79 477.3H82.0M437.5 477.3H441.3M79 474.1H82.0M437.5 474.1H441.3M75 470.9H82.0M437.5 470.9H441.3M79 467.7H82.0M437.5 467.7H441.3M79 464.5H82.0M437.5 464.5H441.3M79 461.3H82.0M437.5 461.3H441.3M79 458.1H82.0M437.5 458.1H441.3M79 454.9H82.0M437.5 454.9H441.3M79 451.8H82.0M437.5 451.8H441.3M79 448.6H82.0M437.5 448.6H441.3M79 445.4H82.0M437.5 445.4H441.3M79 442.2H82.0M437.5 442.2H441.3M75 439.0H82.0M437.5 439.0H441.3M79 435.8H82.0M437.5 435.8H441.3M79 432.6H82.0M437.5 432.6H441.3M93.1 432.5V430.7M93.1 603.5V605.7M104.2 432.5V430.7M104.2 603.5V605.7M115.2 432.5V430.7M115.2 603.5V605.7M126.3 432.5V429.7M126.3 603.5V607.0M137.4 432.5V430.7M137.4 603.5V605.7M148.4 432.5V430.7M148.4 603.5V605.7M159.5 432.5V430.7M159.5 603.5V605.7M170.5 432.5V430.7M170.5 603.5V605.7M181.6 432.5V429.7M181.6 603.5V607.0M192.7 432.5V430.7M192.7 603.5V605.7M203.7 432.5V430.7M203.7 603.5V605.7M214.8 432.5V430.7M214.8 603.5V605.7M225.8 432.5V430.7M225.8 603.5V605.7M236.9 432.5V429.7M236.9 603.5V607.0M248.0 432.5V430.7M248.0 603.5V605.7M259.0 432.5V430.7M259.0 603.5V605.7M270.1 432.5V430.7M270.1 603.5V605.7M281.1 432.5V430.7M281.1 603.5V605.7M292.2 432.5V429.7M292.2 603.5V607.0M303.3 432.5V430.7M303.3 603.5V605.7M314.3 432.5V430.7M314.3 603.5V605.7M325.4 432.5V430.7M325.4 603.5V605.7M336.4 432.5V430.7M336.4 603.5V605.7M347.5 432.5V429.7M347.5 603.5V607.0M358.6 432.5V430.7M358.6 603.5V605.7M369.6 432.5V430.7M369.6 603.5V605.7M380.7 432.5V430.7M380.7 603.5V605.7M391.7 432.5V430.7M391.7 603.5V605.7M402.8 432.5V429.7M402.8 603.5V607.0M413.9 432.5V430.7M413.9 603.5V605.7M424.9 432.5V430.7M424.9 603.5V605.7M436.0 432.5V430.7M436.0 603.5V605.7" stroke="#000" stroke-width="1.2" fill="none"/>
<path d="M437.5 598.5H444.0M437.5 566.6H444.0M437.5 534.7H444.0M437.5 502.8H444.0M437.5 470.9H444.0M437.5 439.0H444.0" stroke="#888" stroke-width="1.2" fill="none"/>
<rect x="81.6" y="432.3" width="356.3" height="171.6" fill="none" stroke="#000" stroke-width="1.3"/>
<path d="M438.8 432.0V604.5" stroke="#000" stroke-width="2.2"/>
<text x="70.8" y="443.0" font-family="Liberation Serif, serif" font-style="italic" font-size="11.5" stroke="#000" stroke-width="0.45" text-anchor="end" textLength="18.5" lengthAdjust="spacingAndGlyphs">200</text>
<text x="70.8" y="474.9" font-family="Liberation Serif, serif" font-style="italic" font-size="11.5" stroke="#000" stroke-width="0.45" text-anchor="end" textLength="18.5" lengthAdjust="spacingAndGlyphs">190</text>
<text x="70.8" y="506.8" font-family="Liberation Serif, serif" font-style="italic" font-size="11.5" stroke="#000" stroke-width="0.45" text-anchor="end" textLength="18.5" lengthAdjust="spacingAndGlyphs">180</text>
<text x="70.8" y="538.7" font-family="Liberation Serif, serif" font-style="italic" font-size="11.5" stroke="#000" stroke-width="0.45" text-anchor="end" textLength="18.5" lengthAdjust="spacingAndGlyphs">170</text>
<text x="70.8" y="570.6" font-family="Liberation Serif, serif" font-style="italic" font-size="11.5" stroke="#000" stroke-width="0.45" text-anchor="end" textLength="18.5" lengthAdjust="spacingAndGlyphs">160</text>
<text x="70.8" y="602.5" font-family="Liberation Serif, serif" font-style="italic" font-size="11.5" stroke="#000" stroke-width="0.45" text-anchor="end" textLength="18.5" lengthAdjust="spacingAndGlyphs">150</text>
<text x="126.3" y="623.3" font-family="Liberation Serif, serif" font-style="italic" font-size="11.5" stroke="#000" stroke-width="0.45" text-anchor="middle" textLength="26.7" lengthAdjust="spacingAndGlyphs">1980</text>
<text x="181.6" y="623.3" font-family="Liberation Serif, serif" font-style="italic" font-size="11.5" stroke="#000" stroke-width="0.45" text-anchor="middle" textLength="26.7" lengthAdjust="spacingAndGlyphs">1985</text>
<text x="236.9" y="623.3" font-family="Liberation Serif, serif" font-style="italic" font-size="11.5" stroke="#000" stroke-width="0.45" text-anchor="middle" textLength="26.7" lengthAdjust="spacingAndGlyphs">1990</text>
<text x="292.2" y="623.3" font-family="Liberation Serif, serif" font-style="italic" font-size="11.5" stroke="#000" stroke-width="0.45" text-anchor="middle" textLength="26.7" lengthAdjust="spacingAndGlyphs">1995</text>
<text x="347.5" y="623.3" font-family="Liberation Serif, serif" font-style="italic" font-size="11.5" stroke="#000" stroke-width="0.45" text-anchor="middle" textLength="26.7" lengthAdjust="spacingAndGlyphs">2000</text>
<text x="402.8" y="623.3" font-family="Liberation Serif, serif" font-style="italic" font-size="11.5" stroke="#000" stroke-width="0.45" text-anchor="middle" textLength="26.7" lengthAdjust="spacingAndGlyphs">2005</text>
<text x="260" y="636.5" font-family="Liberation Serif, serif" font-style="italic" font-size="12" stroke="#000" stroke-width="0.45" text-anchor="middle" textLength="68.6" lengthAdjust="spacingAndGlyphs">Time (year)</text>
<text transform="translate(42.4 337.7) rotate(-90)" font-family="Liberation Serif, serif" font-style="italic" font-size="12" stroke="#000" stroke-width="0.45" text-anchor="middle" textLength="98.6" lengthAdjust="spacingAndGlyphs">Timescale (day)</text>
<text transform="translate(42.6 517.6) rotate(-90)" font-family="Liberation Serif, serif" font-style="italic" font-size="12" stroke="#000" stroke-width="0.45" text-anchor="middle" textLength="99" lengthAdjust="spacingAndGlyphs">Timescale (day)</text>
<rect x="462.6" y="253.9" width="163.8" height="168.9" fill="#fff"/>
<path d="M462.6 422.8H459.0M626.4 422.8H628.4M462.6 418.6H460.0M626.4 418.6H628.4M462.6 414.4H460.0M626.4 414.4H628.4M462.6 410.1H460.0M626.4 410.1H628.4M462.6 405.9H460.0M626.4 405.9H628.4M462.6 401.7H460.0M626.4 401.7H628.4M462.6 397.5H460.0M626.4 397.5H628.4M462.6 393.2H460.0M626.4 393.2H628.4M462.6 389.0H460.0M626.4 389.0H628.4M462.6 384.8H460.0M626.4 384.8H628.4M462.6 380.6H459.0M626.4 380.6H628.4M462.6 376.4H460.0M626.4 376.4H628.4M462.6 372.1H460.0M626.4 372.1H628.4M462.6 367.9H460.0M626.4 367.9H628.4M462.6 363.7H460.0M626.4 363.7H628.4M462.6 359.5H460.0M626.4 359.5H628.4M462.6 355.2H460.0M626.4 355.2H628.4M462.6 351.0H460.0M626.4 351.0H628.4M462.6 346.8H460.0M626.4 346.8H628.4M462.6 342.6H460.0M626.4 342.6H628.4M462.6 338.4H459.0M626.4 338.4H628.4M462.6 334.1H460.0M626.4 334.1H628.4M462.6 329.9H460.0M626.4 329.9H628.4M462.6 325.7H460.0M626.4 325.7H628.4M462.6 321.5H460.0M626.4 321.5H628.4M462.6 317.2H460.0M626.4 317.2H628.4M462.6 313.0H460.0M626.4 313.0H628.4M462.6 308.8H460.0M626.4 308.8H628.4M462.6 304.6H460.0M626.4 304.6H628.4M462.6 300.3H460.0M626.4 300.3H628.4M462.6 296.1H459.0M626.4 296.1H628.4M462.6 291.9H460.0M626.4 291.9H628.4M462.6 287.7H460.0M626.4 287.7H628.4M462.6 283.5H460.0M626.4 283.5H628.4M462.6 279.2H460.0M626.4 279.2H628.4M462.6 275.0H460.0M626.4 275.0H628.4M462.6 270.8H460.0M626.4 270.8H628.4M462.6 266.6H460.0M626.4 266.6H628.4M462.6 262.3H460.0M626.4 262.3H628.4M462.6 258.1H460.0M626.4 258.1H628.4M462.6 253.9H459.0M626.4 253.9H628.4M462.6 253.9V250.7M462.6 422.8V426.0M472.8 253.9V251.9M472.8 422.8V424.8M483.1 253.9V251.9M483.1 422.8V424.8M493.3 253.9V251.9M493.3 422.8V424.8M503.6 253.9V250.7M503.6 422.8V426.0M513.8 253.9V251.9M513.8 422.8V424.8M524.0 253.9V251.9M524.0 422.8V424.8M534.3 253.9V251.9M534.3 422.8V424.8M544.5 253.9V250.7M544.5 422.8V426.0M554.7 253.9V251.9M554.7 422.8V424.8M565.0 253.9V251.9M565.0 422.8V424.8M575.2 253.9V251.9M575.2 422.8V424.8M585.5 253.9V250.7M585.5 422.8V426.0M595.7 253.9V251.9M595.7 422.8V424.8M605.9 253.9V251.9M605.9 422.8V424.8M616.2 253.9V251.9M616.2 422.8V424.8M626.4 253.9V250.7M626.4 422.8V426.0" stroke="#111" stroke-width="1" fill="none"/>
<path d="M474.6 253.9C476.0 256.1 480.2 261.9 483.0 266.8C485.8 271.8 488.1 278.5 491.4 283.6C494.7 288.7 498.9 293.2 502.6 297.6C506.3 302.0 510.1 306.0 513.8 310.2C517.5 314.4 521.3 318.4 525.0 322.8C528.7 327.2 532.0 332.6 536.2 336.8C540.4 341.0 546.0 344.7 550.2 348.0C554.4 351.3 558.8 353.6 561.4 356.4C564.0 359.2 565.4 362.0 565.6 364.8C565.8 367.6 564.9 370.6 562.8 373.2C560.7 375.8 557.9 377.9 553.0 380.2C548.1 382.5 540.4 384.9 533.4 387.2C526.4 389.5 518.9 391.6 511.0 394.2C503.1 396.8 493.9 399.6 485.8 402.6C477.7 405.6 466.5 410.8 462.6 412.4" fill="none" stroke="#ff1a1a" stroke-width="1.8" stroke-dasharray="6.5 3.8"/>
<path d="M530.6 255.6C529.2 256.5 525.5 258.6 522.2 261.2C518.9 263.8 514.0 267.7 511.0 271.0C508.0 274.3 505.2 277.8 504.0 280.8C502.8 283.8 503.3 286.2 504.0 289.2C504.7 292.2 505.6 295.7 508.2 299.0C510.8 302.3 515.2 305.8 519.4 308.8C523.6 311.8 529.7 314.4 533.4 317.2C537.1 320.0 539.9 321.9 541.8 325.6C543.7 329.3 545.1 335.4 544.6 339.6C544.1 343.8 541.8 347.1 539.0 350.8C536.2 354.5 530.4 358.3 527.8 362.0C525.2 365.7 523.6 369.0 523.6 373.2C523.6 377.4 526.2 383.0 527.8 387.2C529.4 391.4 532.9 395.1 533.4 398.4C533.9 401.7 533.4 404.0 530.6 406.8C527.8 409.6 522.7 412.5 516.6 415.2C510.5 417.9 497.9 421.5 494.2 422.8" fill="none" stroke="#111" stroke-width="1.8" stroke-dasharray="6.5 3.8"/>
<path d="M516.6 253.9C518.0 255.1 521.7 258.1 525.0 261.2C528.3 264.3 532.5 268.7 536.2 272.4C539.9 276.1 543.7 279.6 547.4 283.6C551.1 287.6 553.9 292.5 558.6 296.2C563.3 299.9 569.3 303.0 575.4 306.0C581.5 309.0 588.9 311.6 595.0 314.4C601.1 317.2 608.1 320.2 611.8 322.8C615.4 325.4 616.9 327.0 616.9 329.8C616.9 332.6 615.0 336.3 611.8 339.6C608.6 342.9 602.2 346.1 597.8 349.4C593.4 352.7 587.8 356.2 585.2 359.2C582.6 362.2 581.7 364.3 582.4 367.6C583.1 370.9 586.8 375.5 589.4 378.8C592.0 382.1 596.6 383.9 597.8 387.2C599.0 390.5 598.7 395.1 596.4 398.4C594.1 401.7 589.6 404.2 583.8 406.8C578.0 409.4 569.3 411.7 561.4 413.8C553.5 415.9 543.9 417.9 536.2 419.4C528.5 420.9 518.7 422.2 515.2 422.8" fill="none" stroke="#1a1aff" stroke-width="1.8" stroke-dasharray="6.5 3.8"/>
<rect x="462.6" y="253.9" width="163.8" height="168.9" fill="none" stroke="#222" stroke-width="1.4"/>
<text x="457.8" y="422.3" font-family="Liberation Sans, sans-serif" font-style="italic" font-weight="bold" font-size="6.6" text-anchor="end" textLength="11.4" lengthAdjust="spacingAndGlyphs">160</text>
<text x="457.8" y="383.7" font-family="Liberation Sans, sans-serif" font-style="italic" font-weight="bold" font-size="6.6" text-anchor="end" textLength="11.4" lengthAdjust="spacingAndGlyphs">170</text>
<text x="457.8" y="341.5" font-family="Liberation Sans, sans-serif" font-style="italic" font-weight="bold" font-size="6.6" text-anchor="end" textLength="11.4" lengthAdjust="spacingAndGlyphs">180</text>
<text x="457.8" y="299.2" font-family="Liberation Sans, sans-serif" font-style="italic" font-weight="bold" font-size="6.6" text-anchor="end" textLength="11.4" lengthAdjust="spacingAndGlyphs">190</text>
<text x="457.8" y="258.4" font-family="Liberation Sans, sans-serif" font-style="italic" font-weight="bold" font-size="6.6" text-anchor="end" textLength="11.4" lengthAdjust="spacingAndGlyphs">200</text>
<path d="M463.5 604.0H459.9M626.5 604.0H628.5M463.5 600.6H460.9M626.5 600.6H628.5M463.5 597.2H460.9M626.5 597.2H628.5M463.5 593.7H460.9M626.5 593.7H628.5M463.5 590.3H460.9M626.5 590.3H628.5M463.5 586.9H460.9M626.5 586.9H628.5M463.5 583.5H460.9M626.5 583.5H628.5M463.5 580.0H460.9M626.5 580.0H628.5M463.5 576.6H460.9M626.5 576.6H628.5M463.5 573.2H460.9M626.5 573.2H628.5M463.5 569.8H459.9M626.5 569.8H628.5M463.5 566.3H460.9M626.5 566.3H628.5M463.5 562.9H460.9M626.5 562.9H628.5M463.5 559.5H460.9M626.5 559.5H628.5M463.5 556.1H460.9M626.5 556.1H628.5M463.5 552.6H460.9M626.5 552.6H628.5M463.5 549.2H460.9M626.5 549.2H628.5M463.5 545.8H460.9M626.5 545.8H628.5M463.5 542.4H460.9M626.5 542.4H628.5M463.5 538.9H460.9M626.5 538.9H628.5M463.5 535.5H459.9M626.5 535.5H628.5M463.5 532.1H460.9M626.5 532.1H628.5M463.5 528.7H460.9M626.5 528.7H628.5M463.5 525.2H460.9M626.5 525.2H628.5M463.5 521.8H460.9M626.5 521.8H628.5M463.5 518.4H460.9M626.5 518.4H628.5M463.5 515.0H460.9M626.5 515.0H628.5M463.5 511.6H460.9M626.5 511.6H628.5M463.5 508.1H460.9M626.5 508.1H628.5M463.5 504.7H460.9M626.5 504.7H628.5M463.5 501.3H459.9M626.5 501.3H628.5M463.5 497.9H460.9M626.5 497.9H628.5M463.5 494.4H460.9M626.5 494.4H628.5M463.5 491.0H460.9M626.5 491.0H628.5M463.5 487.6H460.9M626.5 487.6H628.5M463.5 484.2H460.9M626.5 484.2H628.5M463.5 480.7H460.9M626.5 480.7H628.5M463.5 477.3H460.9M626.5 477.3H628.5M463.5 473.9H460.9M626.5 473.9H628.5M463.5 470.5H460.9M626.5 470.5H628.5M463.5 467.0H459.9M626.5 467.0H628.5M463.5 463.6H460.9M626.5 463.6H628.5M463.5 460.2H460.9M626.5 460.2H628.5M463.5 456.8H460.9M626.5 456.8H628.5M463.5 453.3H460.9M626.5 453.3H628.5M463.5 449.9H460.9M626.5 449.9H628.5M463.5 446.5H460.9M626.5 446.5H628.5M463.5 443.1H460.9M626.5 443.1H628.5M463.5 439.6H460.9M626.5 439.6H628.5M463.5 436.2H460.9M626.5 436.2H628.5M463.5 432.8H459.9M626.5 432.8H628.5M463.5 432.8V429.6M463.5 604.0V607.2M473.1 432.8V430.8M473.1 604.0V606.0M482.7 432.8V430.8M482.7 604.0V606.0M492.3 432.8V430.8M492.3 604.0V606.0M501.9 432.8V430.8M501.9 604.0V606.0M511.4 432.8V429.6M511.4 604.0V607.2M521.0 432.8V430.8M521.0 604.0V606.0M530.6 432.8V430.8M530.6 604.0V606.0M540.2 432.8V430.8M540.2 604.0V606.0M549.8 432.8V430.8M549.8 604.0V606.0M559.4 432.8V429.6M559.4 604.0V607.2M569.0 432.8V430.8M569.0 604.0V606.0M578.6 432.8V430.8M578.6 604.0V606.0M588.1 432.8V430.8M588.1 604.0V606.0M597.7 432.8V430.8M597.7 604.0V606.0M607.3 432.8V429.6M607.3 604.0V607.2M616.9 432.8V430.8M616.9 604.0V606.0M626.5 432.8V430.8M626.5 604.0V606.0" stroke="#111" stroke-width="1" fill="none"/>
<path d="M465.8 432.8C466.1 434.4 466.4 438.3 467.7 442.2C469.0 446.1 472.0 451.6 473.4 456.3C474.8 461.0 476.2 465.3 476.2 470.5C476.2 475.7 474.6 482.2 473.4 487.4C472.2 492.6 470.3 496.9 469.2 501.6C468.1 506.3 467.1 511.0 466.9 515.7C466.6 520.4 466.6 525.6 467.7 529.9C468.8 534.1 470.3 537.9 473.4 541.2C476.5 544.5 481.4 546.6 486.1 549.7C490.8 552.8 497.7 555.8 501.7 559.6C505.7 563.4 509.2 568.6 510.2 572.4C511.1 576.2 509.8 579.0 507.4 582.3C505.0 585.6 499.1 589.4 496.0 592.2C492.9 595.0 490.3 597.2 489.0 599.2C487.7 601.2 488.5 603.2 488.4 604.0" fill="none" stroke="#ff1a1a" stroke-width="1.8" stroke-dasharray="6.5 3.8"/>
<path d="M498.9 432.8C497.7 434.4 493.7 438.3 491.8 442.2C489.9 446.1 487.8 451.6 487.6 456.3C487.4 461.0 488.8 465.8 490.4 470.5C492.0 475.2 495.6 479.4 497.5 484.6C499.4 489.8 501.5 496.4 501.7 501.6C501.9 506.8 500.3 511.5 498.9 515.7C497.5 520.0 493.9 523.3 493.2 527.1C492.5 530.9 492.5 535.1 494.6 538.4C496.7 541.7 501.6 544.3 505.9 546.9C510.1 549.5 515.4 551.2 520.1 554.0C524.8 556.8 530.4 560.4 534.3 563.9C538.2 567.4 542.4 571.2 543.3 575.2C544.2 579.2 542.8 584.4 539.9 587.9C537.0 591.4 531.5 594.0 525.8 596.4C520.1 598.8 510.1 600.8 505.9 602.1C501.6 603.4 501.2 603.7 500.3 604.0" fill="none" stroke="#1a1aff" stroke-width="1.8" stroke-dasharray="6.5 3.8"/>
<path d="M569.6 435.1C572.2 436.8 579.3 441.7 585.2 445.0C591.1 448.3 600.0 451.8 605.0 454.9C610.0 458.0 613.7 460.6 614.9 463.4C616.1 466.2 615.2 469.1 612.1 471.9C609.0 474.7 603.8 477.3 596.5 480.4C589.2 483.5 576.7 487.0 568.2 490.3C559.7 493.6 551.2 497.4 545.6 500.2C540.0 503.0 538.1 503.8 534.3 507.3C530.5 510.8 526.0 516.7 522.9 521.4C519.8 526.1 517.1 531.4 515.9 535.6C514.7 539.9 514.2 543.6 515.9 546.9C517.5 550.2 522.3 552.1 525.8 555.4C529.3 558.7 534.8 562.9 537.1 566.7C539.5 570.5 541.8 574.2 539.9 578.0C538.0 581.8 531.0 586.2 525.8 589.3C520.6 592.4 514.5 593.9 508.8 596.4C503.1 598.9 494.6 602.7 491.8 604.0" fill="none" stroke="#111" stroke-width="1.8" stroke-dasharray="6.5 3.8"/>
<rect x="463.5" y="432.8" width="163.0" height="171.2" fill="none" stroke="#222" stroke-width="1.4"/>
<text x="457.8" y="603.5" font-family="Liberation Sans, sans-serif" font-style="italic" font-weight="bold" font-size="6.6" text-anchor="end" textLength="11.4" lengthAdjust="spacingAndGlyphs">150</text>
<text x="457.8" y="572.9" font-family="Liberation Sans, sans-serif" font-style="italic" font-weight="bold" font-size="6.6" text-anchor="end" textLength="11.4" lengthAdjust="spacingAndGlyphs">160</text>
<text x="457.8" y="538.6" font-family="Liberation Sans, sans-serif" font-style="italic" font-weight="bold" font-size="6.6" text-anchor="end" textLength="11.4" lengthAdjust="spacingAndGlyphs">170</text>
<text x="457.8" y="504.4" font-family="Liberation Sans, sans-serif" font-style="italic" font-weight="bold" font-size="6.6" text-anchor="end" textLength="11.4" lengthAdjust="spacingAndGlyphs">180</text>
<text x="457.8" y="470.1" font-family="Liberation Sans, sans-serif" font-style="italic" font-weight="bold" font-size="6.6" text-anchor="end" textLength="11.4" lengthAdjust="spacingAndGlyphs">190</text>
<text x="457.8" y="437.3" font-family="Liberation Sans, sans-serif" font-style="italic" font-weight="bold" font-size="6.6" text-anchor="end" textLength="11.4" lengthAdjust="spacingAndGlyphs">200</text>
</svg></body></html>
